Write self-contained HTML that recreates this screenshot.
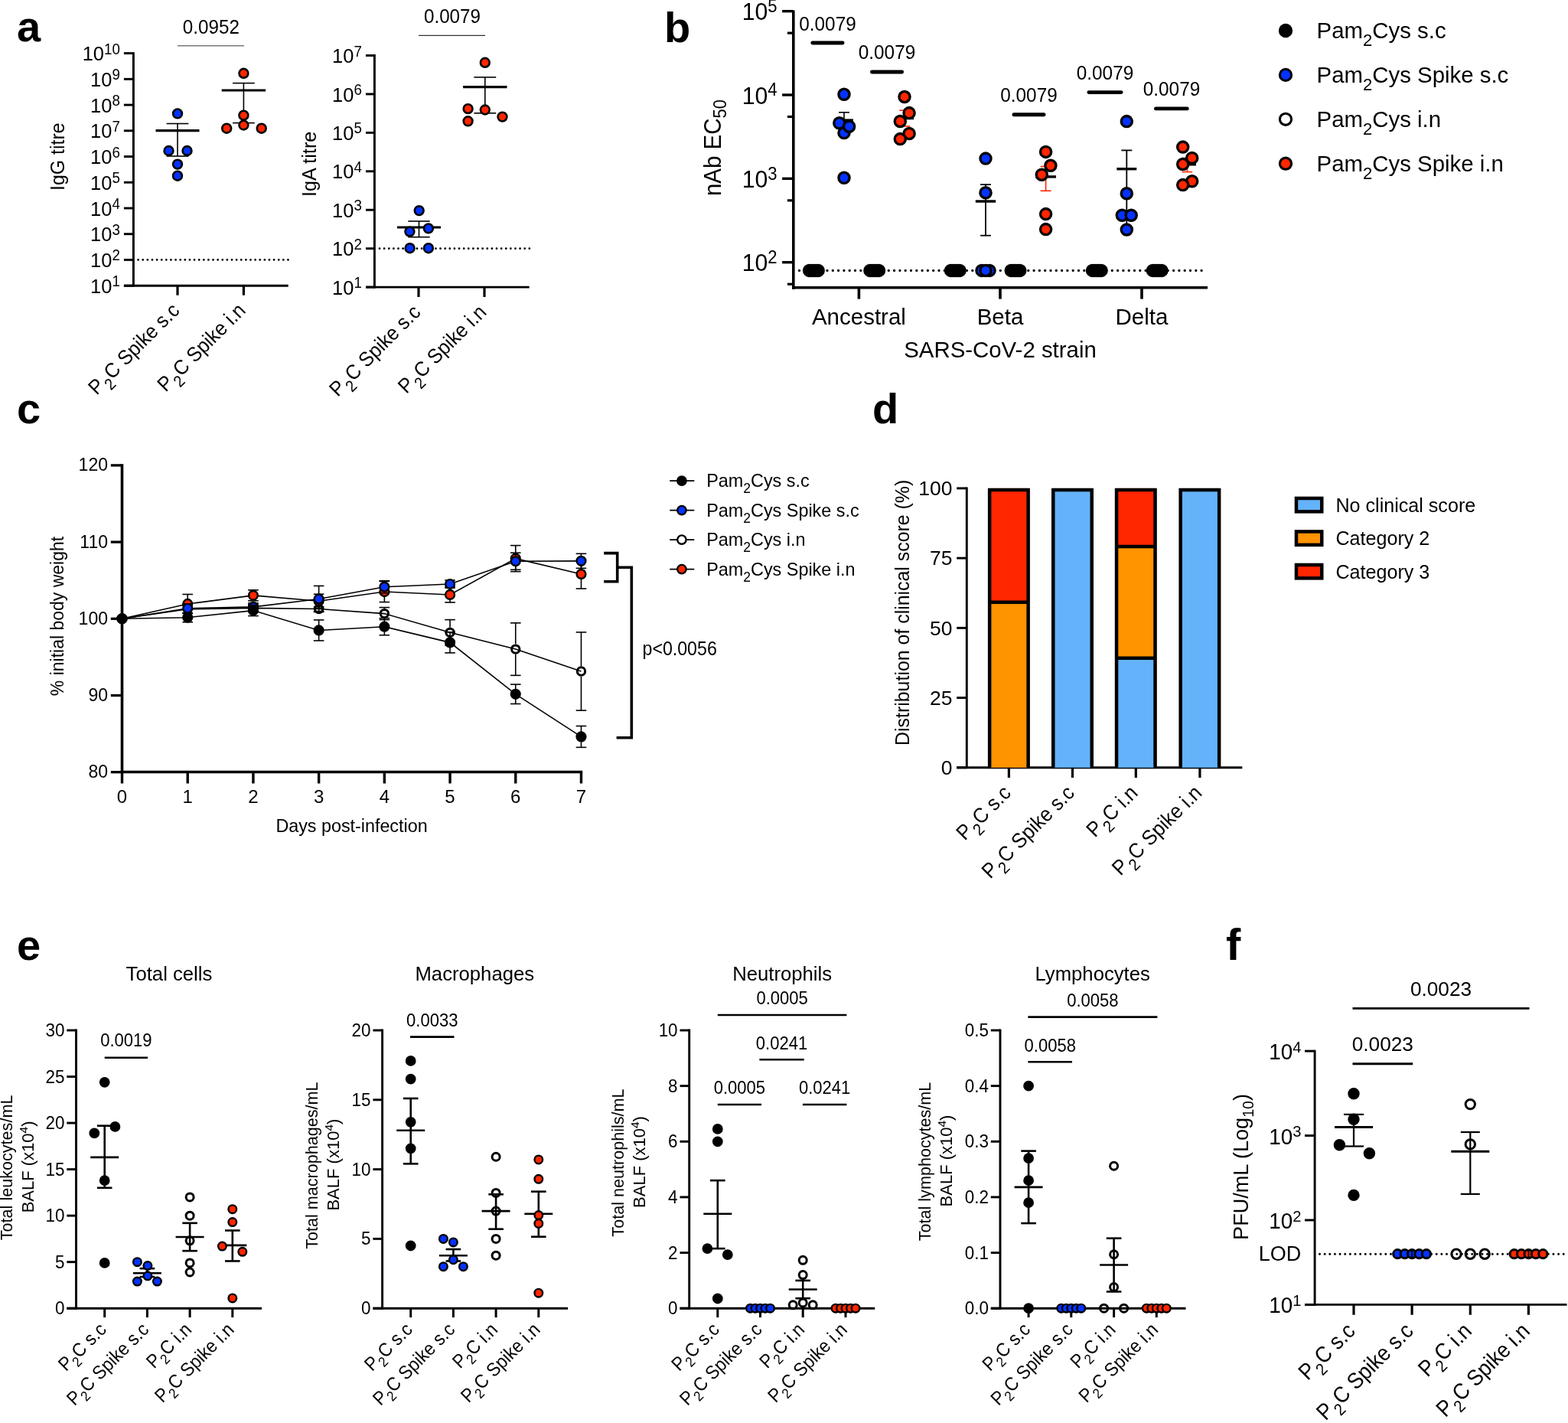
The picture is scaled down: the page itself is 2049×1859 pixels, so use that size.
<!DOCTYPE html>
<html><head><meta charset="utf-8"><title>Figure</title>
<style>html,body{margin:0;padding:0;background:#fff;overflow:hidden;}svg{display:block;}</style>
</head><body>
<svg width="2049" height="1859" viewBox="0 0 2049 1859" font-family='"Liberation Sans", Arial, Helvetica, sans-serif'>
<text x="22" y="54" font-size="56" font-weight="bold">a</text>
<line x1="174.4" y1="68.2" x2="174.4" y2="374.6" stroke="#000" stroke-width="2.9" stroke-linecap="butt"/>
<line x1="161.9" y1="373.2" x2="376.7" y2="373.2" stroke="#000" stroke-width="2.9" stroke-linecap="butt"/>
<line x1="161.9" y1="373.2" x2="174.4" y2="373.2" stroke="#000" stroke-width="2.9" stroke-linecap="butt"/>
<text transform="translate(156.8 382.8) scale(0.960 1.000)" font-size="26.5" text-anchor="end">10<tspan font-size="19.5" dy="-8.6">1</tspan></text>
<line x1="161.9" y1="339.47" x2="174.4" y2="339.47" stroke="#000" stroke-width="2.9" stroke-linecap="butt"/>
<text transform="translate(156.8 349.07) scale(0.960 1.000)" font-size="26.5" text-anchor="end">10<tspan font-size="19.5" dy="-8.6">2</tspan></text>
<line x1="161.9" y1="305.73" x2="174.4" y2="305.73" stroke="#000" stroke-width="2.9" stroke-linecap="butt"/>
<text transform="translate(156.8 315.33) scale(0.960 1.000)" font-size="26.5" text-anchor="end">10<tspan font-size="19.5" dy="-8.6">3</tspan></text>
<line x1="161.9" y1="272" x2="174.4" y2="272" stroke="#000" stroke-width="2.9" stroke-linecap="butt"/>
<text transform="translate(156.8 281.6) scale(0.960 1.000)" font-size="26.5" text-anchor="end">10<tspan font-size="19.5" dy="-8.6">4</tspan></text>
<line x1="161.9" y1="238.27" x2="174.4" y2="238.27" stroke="#000" stroke-width="2.9" stroke-linecap="butt"/>
<text transform="translate(156.8 247.87) scale(0.960 1.000)" font-size="26.5" text-anchor="end">10<tspan font-size="19.5" dy="-8.6">5</tspan></text>
<line x1="161.9" y1="204.53" x2="174.4" y2="204.53" stroke="#000" stroke-width="2.9" stroke-linecap="butt"/>
<text transform="translate(156.8 214.13) scale(0.960 1.000)" font-size="26.5" text-anchor="end">10<tspan font-size="19.5" dy="-8.6">6</tspan></text>
<line x1="161.9" y1="170.8" x2="174.4" y2="170.8" stroke="#000" stroke-width="2.9" stroke-linecap="butt"/>
<text transform="translate(156.8 180.4) scale(0.960 1.000)" font-size="26.5" text-anchor="end">10<tspan font-size="19.5" dy="-8.6">7</tspan></text>
<line x1="161.9" y1="137.07" x2="174.4" y2="137.07" stroke="#000" stroke-width="2.9" stroke-linecap="butt"/>
<text transform="translate(156.8 146.67) scale(0.960 1.000)" font-size="26.5" text-anchor="end">10<tspan font-size="19.5" dy="-8.6">8</tspan></text>
<line x1="161.9" y1="103.33" x2="174.4" y2="103.33" stroke="#000" stroke-width="2.9" stroke-linecap="butt"/>
<text transform="translate(156.8 112.93) scale(0.960 1.000)" font-size="26.5" text-anchor="end">10<tspan font-size="19.5" dy="-8.6">9</tspan></text>
<line x1="161.9" y1="69.6" x2="174.4" y2="69.6" stroke="#000" stroke-width="2.9" stroke-linecap="butt"/>
<text transform="translate(156.8 79.2) scale(0.960 1.000)" font-size="26.5" text-anchor="end">10<tspan font-size="19.5" dy="-8.6">10</tspan></text>
<line x1="232" y1="373.2" x2="232" y2="385.7" stroke="#000" stroke-width="3.2" stroke-linecap="butt"/>
<line x1="318.4" y1="373.2" x2="318.4" y2="385.7" stroke="#000" stroke-width="3.2" stroke-linecap="butt"/>
<line x1="180.6" y1="339.47" x2="378" y2="339.47" stroke="#000" stroke-width="2.8" stroke-linecap="round" stroke-dasharray="0 6.12"/>
<line x1="232" y1="59.7" x2="319" y2="59.7" stroke="#7a7a7a" stroke-width="1.5" stroke-linecap="butt"/>
<text transform="translate(275.8 44) scale(0.970 1.000)" font-size="25" text-anchor="middle">0.0952</text>
<text x="84" y="204.7" font-size="24.9" text-anchor="middle" transform="rotate(-90 84 204.7)">IgG titre</text>
<line x1="232" y1="161.5" x2="232" y2="204" stroke="#000" stroke-width="1.6" stroke-linecap="butt"/>
<line x1="217.6" y1="161.5" x2="246.4" y2="161.5" stroke="#000" stroke-width="1.6" stroke-linecap="butt"/>
<line x1="217.6" y1="204" x2="246.4" y2="204" stroke="#000" stroke-width="1.6" stroke-linecap="butt"/>
<line x1="203.5" y1="170.6" x2="260.5" y2="170.6" stroke="#000" stroke-width="3.2" stroke-linecap="butt"/>
<circle cx="232" cy="148.4" r="5.9" fill="#0433FF" stroke="#000" stroke-width="2.6"/>
<circle cx="220.5" cy="197" r="5.9" fill="#0433FF" stroke="#000" stroke-width="2.6"/>
<circle cx="244.5" cy="197" r="5.9" fill="#0433FF" stroke="#000" stroke-width="2.6"/>
<circle cx="232" cy="214.6" r="5.9" fill="#0433FF" stroke="#000" stroke-width="2.6"/>
<circle cx="232" cy="229.7" r="5.9" fill="#0433FF" stroke="#000" stroke-width="2.6"/>
<line x1="318.4" y1="108.6" x2="318.4" y2="160.6" stroke="#000" stroke-width="1.6" stroke-linecap="butt"/>
<line x1="304" y1="108.6" x2="332.8" y2="108.6" stroke="#000" stroke-width="1.6" stroke-linecap="butt"/>
<line x1="304" y1="160.6" x2="332.8" y2="160.6" stroke="#000" stroke-width="1.6" stroke-linecap="butt"/>
<line x1="289.7" y1="118" x2="347.1" y2="118" stroke="#000" stroke-width="3.2" stroke-linecap="butt"/>
<circle cx="318.4" cy="95.8" r="5.9" fill="#FF2600" stroke="#000" stroke-width="2.6"/>
<circle cx="318.4" cy="150.7" r="5.9" fill="#FF2600" stroke="#000" stroke-width="2.6"/>
<circle cx="318.4" cy="163.5" r="5.9" fill="#FF2600" stroke="#000" stroke-width="2.6"/>
<circle cx="296.2" cy="167.7" r="5.9" fill="#FF2600" stroke="#000" stroke-width="2.6"/>
<circle cx="341.7" cy="167.7" r="5.9" fill="#FF2600" stroke="#000" stroke-width="2.6"/>
<text transform="translate(236 407.1) rotate(-45) scale(0.935 1.000)" font-size="26.8" text-anchor="end">P<tspan font-size="21.2" dy="9" dx="1">2</tspan><tspan dy="-9">C Spike s.c</tspan></text>
<text transform="translate(322.4 407.1) rotate(-45) scale(0.935 1.000)" font-size="26.8" text-anchor="end">P<tspan font-size="21.2" dy="9" dx="1">2</tspan><tspan dy="-9">C Spike i.n</tspan></text>
<line x1="489.4" y1="71.1" x2="489.4" y2="376.5" stroke="#000" stroke-width="2.9" stroke-linecap="butt"/>
<line x1="478" y1="375.1" x2="691.7" y2="375.1" stroke="#000" stroke-width="2.9" stroke-linecap="butt"/>
<line x1="478" y1="375.1" x2="489.4" y2="375.1" stroke="#000" stroke-width="2.9" stroke-linecap="butt"/>
<text transform="translate(472.8 384.7) scale(0.960 1.000)" font-size="26.5" text-anchor="end">10<tspan font-size="19.5" dy="-8.6">1</tspan></text>
<line x1="478" y1="324.67" x2="489.4" y2="324.67" stroke="#000" stroke-width="2.9" stroke-linecap="butt"/>
<text transform="translate(472.8 334.27) scale(0.960 1.000)" font-size="26.5" text-anchor="end">10<tspan font-size="19.5" dy="-8.6">2</tspan></text>
<line x1="478" y1="274.23" x2="489.4" y2="274.23" stroke="#000" stroke-width="2.9" stroke-linecap="butt"/>
<text transform="translate(472.8 283.83) scale(0.960 1.000)" font-size="26.5" text-anchor="end">10<tspan font-size="19.5" dy="-8.6">3</tspan></text>
<line x1="478" y1="223.8" x2="489.4" y2="223.8" stroke="#000" stroke-width="2.9" stroke-linecap="butt"/>
<text transform="translate(472.8 233.4) scale(0.960 1.000)" font-size="26.5" text-anchor="end">10<tspan font-size="19.5" dy="-8.6">4</tspan></text>
<line x1="478" y1="173.37" x2="489.4" y2="173.37" stroke="#000" stroke-width="2.9" stroke-linecap="butt"/>
<text transform="translate(472.8 182.97) scale(0.960 1.000)" font-size="26.5" text-anchor="end">10<tspan font-size="19.5" dy="-8.6">5</tspan></text>
<line x1="478" y1="122.93" x2="489.4" y2="122.93" stroke="#000" stroke-width="2.9" stroke-linecap="butt"/>
<text transform="translate(472.8 132.53) scale(0.960 1.000)" font-size="26.5" text-anchor="end">10<tspan font-size="19.5" dy="-8.6">6</tspan></text>
<line x1="478" y1="72.5" x2="489.4" y2="72.5" stroke="#000" stroke-width="2.9" stroke-linecap="butt"/>
<text transform="translate(472.8 82.1) scale(0.960 1.000)" font-size="26.5" text-anchor="end">10<tspan font-size="19.5" dy="-8.6">7</tspan></text>
<line x1="547" y1="375.1" x2="547" y2="388" stroke="#000" stroke-width="3.2" stroke-linecap="butt"/>
<line x1="633" y1="375.1" x2="633" y2="388" stroke="#000" stroke-width="3.2" stroke-linecap="butt"/>
<line x1="496" y1="324.67" x2="692" y2="324.67" stroke="#000" stroke-width="2.8" stroke-linecap="round" stroke-dasharray="0 6.12"/>
<line x1="547" y1="46.4" x2="634" y2="46.4" stroke="#303030" stroke-width="1.2" stroke-linecap="butt"/>
<text transform="translate(591 30) scale(0.970 1.000)" font-size="25" text-anchor="middle">0.0079</text>
<text x="413" y="214.4" font-size="25.2" text-anchor="middle" transform="rotate(-90 413 214.4)">IgA titre</text>
<line x1="547.5" y1="289" x2="547.5" y2="309.7" stroke="#000" stroke-width="1.6" stroke-linecap="butt"/>
<line x1="533.3" y1="289" x2="561.7" y2="289" stroke="#000" stroke-width="1.6" stroke-linecap="butt"/>
<line x1="533.3" y1="309.7" x2="561.7" y2="309.7" stroke="#000" stroke-width="1.6" stroke-linecap="butt"/>
<line x1="519" y1="297" x2="576" y2="297" stroke="#000" stroke-width="3.2" stroke-linecap="butt"/>
<circle cx="547.7" cy="275.1" r="5.9" fill="#0433FF" stroke="#000" stroke-width="2.6"/>
<circle cx="559.9" cy="298.4" r="5.9" fill="#0433FF" stroke="#000" stroke-width="2.6"/>
<circle cx="535.4" cy="302.6" r="5.9" fill="#0433FF" stroke="#000" stroke-width="2.6"/>
<circle cx="535.6" cy="324.2" r="5.9" fill="#0433FF" stroke="#000" stroke-width="2.6"/>
<circle cx="559.9" cy="324.2" r="5.9" fill="#0433FF" stroke="#000" stroke-width="2.6"/>
<line x1="633.8" y1="100.9" x2="633.8" y2="147.8" stroke="#000" stroke-width="1.6" stroke-linecap="butt"/>
<line x1="619.4" y1="100.9" x2="648.2" y2="100.9" stroke="#000" stroke-width="1.6" stroke-linecap="butt"/>
<line x1="619.4" y1="147.8" x2="648.2" y2="147.8" stroke="#000" stroke-width="1.6" stroke-linecap="butt"/>
<line x1="605.1" y1="113.7" x2="662.5" y2="113.7" stroke="#000" stroke-width="3.2" stroke-linecap="butt"/>
<circle cx="633.8" cy="81.8" r="5.9" fill="#FF2600" stroke="#000" stroke-width="2.6"/>
<circle cx="611.6" cy="142.1" r="5.9" fill="#FF2600" stroke="#000" stroke-width="2.6"/>
<circle cx="633.8" cy="143.5" r="5.9" fill="#FF2600" stroke="#000" stroke-width="2.6"/>
<circle cx="656.5" cy="152.6" r="5.9" fill="#FF2600" stroke="#000" stroke-width="2.6"/>
<circle cx="611.6" cy="158.3" r="5.9" fill="#FF2600" stroke="#000" stroke-width="2.6"/>
<text transform="translate(551 409.4) rotate(-45) scale(0.935 1.000)" font-size="26.8" text-anchor="end">P<tspan font-size="21.2" dy="9" dx="1">2</tspan><tspan dy="-9">C Spike s.c</tspan></text>
<text transform="translate(637 409.4) rotate(-45) scale(0.935 1.000)" font-size="26.8" text-anchor="end">P<tspan font-size="21.2" dy="9" dx="1">2</tspan><tspan dy="-9">C Spike i.n</tspan></text>
<text x="868" y="55" font-size="56" font-weight="bold">b</text>
<line x1="1036.8" y1="13.4" x2="1036.8" y2="377.7" stroke="#000" stroke-width="3.6" stroke-linecap="butt"/>
<line x1="1035" y1="375.8" x2="1578" y2="375.8" stroke="#000" stroke-width="3.6" stroke-linecap="butt"/>
<line x1="1022.1" y1="342.7" x2="1036.8" y2="342.7" stroke="#000" stroke-width="3.4" stroke-linecap="butt"/>
<text transform="translate(1015.6 354.3) scale(0.960 1.000)" font-size="31.5" text-anchor="end">10<tspan font-size="23" dy="-10.4">2</tspan></text>
<line x1="1028.9" y1="371.2" x2="1036.8" y2="371.2" stroke="#000" stroke-width="3.2" stroke-linecap="butt"/>
<line x1="1022.1" y1="233.35" x2="1036.8" y2="233.35" stroke="#000" stroke-width="3.4" stroke-linecap="butt"/>
<text transform="translate(1015.6 244.95) scale(0.960 1.000)" font-size="31.5" text-anchor="end">10<tspan font-size="23" dy="-10.4">3</tspan></text>
<line x1="1028.9" y1="261.85" x2="1036.8" y2="261.85" stroke="#000" stroke-width="3.2" stroke-linecap="butt"/>
<line x1="1022.1" y1="124" x2="1036.8" y2="124" stroke="#000" stroke-width="3.4" stroke-linecap="butt"/>
<text transform="translate(1015.6 135.6) scale(0.960 1.000)" font-size="31.5" text-anchor="end">10<tspan font-size="23" dy="-10.4">4</tspan></text>
<line x1="1028.9" y1="152.5" x2="1036.8" y2="152.5" stroke="#000" stroke-width="3.2" stroke-linecap="butt"/>
<line x1="1022.1" y1="14.65" x2="1036.8" y2="14.65" stroke="#000" stroke-width="3.4" stroke-linecap="butt"/>
<text transform="translate(1015.6 26.25) scale(0.960 1.000)" font-size="31.5" text-anchor="end">10<tspan font-size="23" dy="-10.4">5</tspan></text>
<line x1="1028.9" y1="43.15" x2="1036.8" y2="43.15" stroke="#000" stroke-width="3.2" stroke-linecap="butt"/>
<line x1="1122.4" y1="375.8" x2="1122.4" y2="390.6" stroke="#000" stroke-width="3.6" stroke-linecap="butt"/>
<line x1="1307" y1="375.8" x2="1307" y2="390.6" stroke="#000" stroke-width="3.6" stroke-linecap="butt"/>
<line x1="1492" y1="375.8" x2="1492" y2="390.6" stroke="#000" stroke-width="3.6" stroke-linecap="butt"/>
<line x1="1044.5" y1="353.4" x2="1576" y2="353.4" stroke="#000" stroke-width="3.3" stroke-linecap="round" stroke-dasharray="0 7.3"/>
<text x="1122.4" y="424.3" font-size="29.5" text-anchor="middle">Ancestral</text>
<text x="1307" y="424.3" font-size="29.5" text-anchor="middle">Beta</text>
<text x="1492" y="424.3" font-size="29.5" text-anchor="middle">Delta</text>
<text x="1307" y="467.3" font-size="29.4" text-anchor="middle">SARS-CoV-2 strain</text>
<text transform="translate(941.6 193) rotate(-90) scale(1.000 1.050)" font-size="29.5" text-anchor="middle">nAb EC<tspan font-size="22" dy="7.5">50</tspan></text>
<line x1="1061.8" y1="56" x2="1101.1" y2="56" stroke="#000" stroke-width="4.9" stroke-linecap="round"/>
<text transform="translate(1081.5 39.7) scale(0.955 1.000)" font-size="25.5" text-anchor="middle">0.0079</text>
<line x1="1139.4" y1="94" x2="1178.6" y2="94" stroke="#000" stroke-width="4.9" stroke-linecap="round"/>
<text transform="translate(1159 77.4) scale(0.955 1.000)" font-size="25.5" text-anchor="middle">0.0079</text>
<line x1="1324.9" y1="149.8" x2="1364.1" y2="149.8" stroke="#000" stroke-width="4.9" stroke-linecap="round"/>
<text transform="translate(1344.5 133.2) scale(0.955 1.000)" font-size="25.5" text-anchor="middle">0.0079</text>
<line x1="1422.9" y1="120.6" x2="1465.1" y2="120.6" stroke="#000" stroke-width="4.9" stroke-linecap="round"/>
<text transform="translate(1444 104) scale(0.955 1.000)" font-size="25.5" text-anchor="middle">0.0079</text>
<line x1="1510.4" y1="141.9" x2="1551.3" y2="141.9" stroke="#000" stroke-width="4.9" stroke-linecap="round"/>
<text transform="translate(1531 125.2) scale(0.955 1.000)" font-size="25.5" text-anchor="middle">0.0079</text>
<circle cx="1057.65" cy="353.4" r="7.1" fill="#000" stroke="#000" stroke-width="3.3"/>
<circle cx="1060.53" cy="353.4" r="7.1" fill="#000" stroke="#000" stroke-width="3.3"/>
<circle cx="1063.4" cy="353.4" r="7.1" fill="#000" stroke="#000" stroke-width="3.3"/>
<circle cx="1066.28" cy="353.4" r="7.1" fill="#000" stroke="#000" stroke-width="3.3"/>
<circle cx="1069.15" cy="353.4" r="7.1" fill="#000" stroke="#000" stroke-width="3.3"/>
<circle cx="1136.95" cy="353.4" r="7.1" fill="#000" stroke="#000" stroke-width="3.3"/>
<circle cx="1139.83" cy="353.4" r="7.1" fill="#000" stroke="#000" stroke-width="3.3"/>
<circle cx="1142.7" cy="353.4" r="7.1" fill="#000" stroke="#000" stroke-width="3.3"/>
<circle cx="1145.58" cy="353.4" r="7.1" fill="#000" stroke="#000" stroke-width="3.3"/>
<circle cx="1148.45" cy="353.4" r="7.1" fill="#000" stroke="#000" stroke-width="3.3"/>
<line x1="1103" y1="146.8" x2="1103" y2="168" stroke="#000" stroke-width="1.6" stroke-linecap="butt"/>
<line x1="1096" y1="146.8" x2="1110" y2="146.8" stroke="#000" stroke-width="1.6" stroke-linecap="butt"/>
<line x1="1096" y1="168" x2="1110" y2="168" stroke="#000" stroke-width="1.6" stroke-linecap="butt"/>
<line x1="1091" y1="157" x2="1115" y2="157" stroke="#000" stroke-width="3.2" stroke-linecap="butt"/>
<circle cx="1103" cy="123.3" r="7.1" fill="#0433FF" stroke="#000" stroke-width="3.3"/>
<circle cx="1096.8" cy="160.8" r="7.1" fill="#0433FF" stroke="#000" stroke-width="3.3"/>
<circle cx="1103" cy="173.6" r="7.1" fill="#0433FF" stroke="#000" stroke-width="3.3"/>
<circle cx="1109.6" cy="165.2" r="7.1" fill="#0433FF" stroke="#000" stroke-width="3.3"/>
<circle cx="1103" cy="232.3" r="7.1" fill="#0433FF" stroke="#000" stroke-width="3.3"/>
<line x1="1182.3" y1="144.2" x2="1182.3" y2="164.9" stroke="#FF2600" stroke-width="1.6" stroke-linecap="butt"/>
<line x1="1175.3" y1="144.2" x2="1189.3" y2="144.2" stroke="#FF2600" stroke-width="1.6" stroke-linecap="butt"/>
<line x1="1175.3" y1="164.9" x2="1189.3" y2="164.9" stroke="#FF2600" stroke-width="1.6" stroke-linecap="butt"/>
<line x1="1170" y1="154.5" x2="1194" y2="154.5" stroke="#000" stroke-width="3.4" stroke-linecap="butt"/>
<circle cx="1182" cy="126.5" r="7.1" fill="#FF2600" stroke="#000" stroke-width="3.3"/>
<circle cx="1188.1" cy="147.6" r="7.1" fill="#FF2600" stroke="#000" stroke-width="3.3"/>
<circle cx="1176.3" cy="158.5" r="7.1" fill="#FF2600" stroke="#000" stroke-width="3.3"/>
<circle cx="1188.1" cy="174.5" r="7.1" fill="#FF2600" stroke="#000" stroke-width="3.3"/>
<circle cx="1176.3" cy="181.6" r="7.1" fill="#FF2600" stroke="#000" stroke-width="3.3"/>
<circle cx="1242.55" cy="353.4" r="7.1" fill="#000" stroke="#000" stroke-width="3.3"/>
<circle cx="1245.42" cy="353.4" r="7.1" fill="#000" stroke="#000" stroke-width="3.3"/>
<circle cx="1248.3" cy="353.4" r="7.1" fill="#000" stroke="#000" stroke-width="3.3"/>
<circle cx="1251.17" cy="353.4" r="7.1" fill="#000" stroke="#000" stroke-width="3.3"/>
<circle cx="1254.05" cy="353.4" r="7.1" fill="#000" stroke="#000" stroke-width="3.3"/>
<circle cx="1321.25" cy="353.4" r="7.1" fill="#000" stroke="#000" stroke-width="3.3"/>
<circle cx="1324.12" cy="353.4" r="7.1" fill="#000" stroke="#000" stroke-width="3.3"/>
<circle cx="1327" cy="353.4" r="7.1" fill="#000" stroke="#000" stroke-width="3.3"/>
<circle cx="1329.88" cy="353.4" r="7.1" fill="#000" stroke="#000" stroke-width="3.3"/>
<circle cx="1332.75" cy="353.4" r="7.1" fill="#000" stroke="#000" stroke-width="3.3"/>
<line x1="1288" y1="241.1" x2="1288" y2="307.7" stroke="#000" stroke-width="1.8" stroke-linecap="butt"/>
<line x1="1281.1" y1="241.1" x2="1294.9" y2="241.1" stroke="#000" stroke-width="1.8" stroke-linecap="butt"/>
<line x1="1281.1" y1="307.7" x2="1294.9" y2="307.7" stroke="#000" stroke-width="1.8" stroke-linecap="butt"/>
<line x1="1274.8" y1="263" x2="1301.2" y2="263" stroke="#000" stroke-width="3.4" stroke-linecap="butt"/>
<circle cx="1288" cy="207.1" r="7.1" fill="#0433FF" stroke="#000" stroke-width="3.3"/>
<circle cx="1288" cy="251.8" r="7.1" fill="#0433FF" stroke="#000" stroke-width="3.3"/>
<circle cx="1283" cy="353.4" r="7.1" fill="#0433FF" stroke="#000" stroke-width="3.3"/>
<circle cx="1293" cy="353.4" r="7.1" fill="#0433FF" stroke="#000" stroke-width="3.3"/>
<circle cx="1288" cy="353.4" r="7.1" fill="#0433FF" stroke="#000" stroke-width="3.3"/>
<line x1="1366.6" y1="217.5" x2="1366.6" y2="249.3" stroke="#FF2600" stroke-width="1.6" stroke-linecap="butt"/>
<line x1="1359.6" y1="217.5" x2="1373.6" y2="217.5" stroke="#FF2600" stroke-width="1.6" stroke-linecap="butt"/>
<line x1="1359.6" y1="249.3" x2="1373.6" y2="249.3" stroke="#FF2600" stroke-width="1.6" stroke-linecap="butt"/>
<line x1="1353" y1="230.9" x2="1380" y2="230.9" stroke="#000" stroke-width="3.4" stroke-linecap="butt"/>
<circle cx="1366.6" cy="198.4" r="7.1" fill="#FF2600" stroke="#000" stroke-width="3.3"/>
<circle cx="1372.9" cy="216.3" r="7.1" fill="#FF2600" stroke="#000" stroke-width="3.3"/>
<circle cx="1361.3" cy="228.2" r="7.1" fill="#FF2600" stroke="#000" stroke-width="3.3"/>
<circle cx="1366.6" cy="279.6" r="7.1" fill="#FF2600" stroke="#000" stroke-width="3.3"/>
<circle cx="1366.6" cy="299.6" r="7.1" fill="#FF2600" stroke="#000" stroke-width="3.3"/>
<circle cx="1427.55" cy="353.4" r="7.1" fill="#000" stroke="#000" stroke-width="3.3"/>
<circle cx="1430.42" cy="353.4" r="7.1" fill="#000" stroke="#000" stroke-width="3.3"/>
<circle cx="1433.3" cy="353.4" r="7.1" fill="#000" stroke="#000" stroke-width="3.3"/>
<circle cx="1436.17" cy="353.4" r="7.1" fill="#000" stroke="#000" stroke-width="3.3"/>
<circle cx="1439.05" cy="353.4" r="7.1" fill="#000" stroke="#000" stroke-width="3.3"/>
<circle cx="1506.45" cy="353.4" r="7.1" fill="#000" stroke="#000" stroke-width="3.3"/>
<circle cx="1509.33" cy="353.4" r="7.1" fill="#000" stroke="#000" stroke-width="3.3"/>
<circle cx="1512.2" cy="353.4" r="7.1" fill="#000" stroke="#000" stroke-width="3.3"/>
<circle cx="1515.08" cy="353.4" r="7.1" fill="#000" stroke="#000" stroke-width="3.3"/>
<circle cx="1517.95" cy="353.4" r="7.1" fill="#000" stroke="#000" stroke-width="3.3"/>
<line x1="1472.3" y1="196.4" x2="1472.3" y2="300" stroke="#000" stroke-width="1.8" stroke-linecap="butt"/>
<line x1="1465.3" y1="196.4" x2="1479.3" y2="196.4" stroke="#000" stroke-width="1.8" stroke-linecap="butt"/>
<line x1="1465.3" y1="300" x2="1479.3" y2="300" stroke="#000" stroke-width="1.8" stroke-linecap="butt"/>
<line x1="1459.3" y1="220.7" x2="1485.3" y2="220.7" stroke="#000" stroke-width="3.4" stroke-linecap="butt"/>
<circle cx="1472.3" cy="158.6" r="7.1" fill="#0433FF" stroke="#000" stroke-width="3.3"/>
<circle cx="1472.3" cy="252.7" r="7.1" fill="#0433FF" stroke="#000" stroke-width="3.3"/>
<circle cx="1466.3" cy="281.3" r="7.1" fill="#0433FF" stroke="#000" stroke-width="3.3"/>
<circle cx="1478.2" cy="281.3" r="7.1" fill="#0433FF" stroke="#000" stroke-width="3.3"/>
<circle cx="1472.3" cy="300" r="7.1" fill="#0433FF" stroke="#000" stroke-width="3.3"/>
<line x1="1551.4" y1="206.5" x2="1551.4" y2="224.6" stroke="#FF2600" stroke-width="1.6" stroke-linecap="butt"/>
<line x1="1544.6" y1="206.5" x2="1558.2" y2="206.5" stroke="#FF2600" stroke-width="1.6" stroke-linecap="butt"/>
<line x1="1544.6" y1="224.6" x2="1558.2" y2="224.6" stroke="#FF2600" stroke-width="1.6" stroke-linecap="butt"/>
<line x1="1540" y1="214.8" x2="1563" y2="214.8" stroke="#000" stroke-width="3.4" stroke-linecap="butt"/>
<circle cx="1545.7" cy="192.1" r="7.1" fill="#FF2600" stroke="#000" stroke-width="3.3"/>
<circle cx="1557.7" cy="206.4" r="7.1" fill="#FF2600" stroke="#000" stroke-width="3.3"/>
<circle cx="1545.7" cy="214.5" r="7.1" fill="#FF2600" stroke="#000" stroke-width="3.3"/>
<circle cx="1557.7" cy="236.8" r="7.1" fill="#FF2600" stroke="#000" stroke-width="3.3"/>
<circle cx="1545.7" cy="241.6" r="7.1" fill="#FF2600" stroke="#000" stroke-width="3.3"/>
<circle cx="1680" cy="40" r="7.6" fill="#000" stroke="#000" stroke-width="3.1"/>
<text x="1720.6" y="49.8" font-size="29.4">Pam<tspan font-size="22" dy="10.5">2</tspan><tspan dy="-10.5">Cys s.c</tspan></text>
<circle cx="1680" cy="97.9" r="7.6" fill="#0433FF" stroke="#000" stroke-width="3.1"/>
<text x="1720.6" y="107.7" font-size="29.4">Pam<tspan font-size="22" dy="10.5">2</tspan><tspan dy="-10.5">Cys Spike s.c</tspan></text>
<circle cx="1680" cy="155.8" r="7.6" fill="#fff" stroke="#000" stroke-width="3.1"/>
<text x="1720.6" y="165.6" font-size="29.4">Pam<tspan font-size="22" dy="10.5">2</tspan><tspan dy="-10.5">Cys i.n</tspan></text>
<circle cx="1680" cy="213.7" r="7.6" fill="#FF2600" stroke="#000" stroke-width="3.1"/>
<text x="1720.6" y="223.5" font-size="29.4">Pam<tspan font-size="22" dy="10.5">2</tspan><tspan dy="-10.5">Cys Spike i.n</tspan></text>
<text x="22" y="553" font-size="56" font-weight="bold">c</text>
<line x1="159.5" y1="606.3" x2="159.5" y2="1010.2" stroke="#000" stroke-width="3.6" stroke-linecap="butt"/>
<line x1="159.5" y1="1008.6" x2="761.2" y2="1008.6" stroke="#000" stroke-width="3.5" stroke-linecap="butt"/>
<line x1="144.8" y1="1008.7" x2="159.5" y2="1008.7" stroke="#000" stroke-width="3.3" stroke-linecap="butt"/>
<text transform="translate(141 1016.1) scale(0.940 1.000)" font-size="24.5" text-anchor="end">80</text>
<line x1="144.8" y1="908.5" x2="159.5" y2="908.5" stroke="#000" stroke-width="3.3" stroke-linecap="butt"/>
<text transform="translate(141 915.9) scale(0.940 1.000)" font-size="24.5" text-anchor="end">90</text>
<line x1="144.8" y1="808.3" x2="159.5" y2="808.3" stroke="#000" stroke-width="3.3" stroke-linecap="butt"/>
<text transform="translate(141 815.7) scale(0.940 1.000)" font-size="24.5" text-anchor="end">100</text>
<line x1="144.8" y1="708.1" x2="159.5" y2="708.1" stroke="#000" stroke-width="3.3" stroke-linecap="butt"/>
<text transform="translate(141 715.5) scale(0.940 1.000)" font-size="24.5" text-anchor="end">110</text>
<line x1="144.8" y1="607.9" x2="159.5" y2="607.9" stroke="#000" stroke-width="3.3" stroke-linecap="butt"/>
<text transform="translate(141 615.3) scale(0.940 1.000)" font-size="24.5" text-anchor="end">120</text>
<line x1="159.5" y1="1008.6" x2="159.5" y2="1023.5" stroke="#000" stroke-width="3.4" stroke-linecap="butt"/>
<text x="159.5" y="1048.8" font-size="24" text-anchor="middle">0</text>
<line x1="245.21" y1="1008.6" x2="245.21" y2="1023.5" stroke="#000" stroke-width="3.4" stroke-linecap="butt"/>
<text x="245.21" y="1048.8" font-size="24" text-anchor="middle">1</text>
<line x1="330.92" y1="1008.6" x2="330.92" y2="1023.5" stroke="#000" stroke-width="3.4" stroke-linecap="butt"/>
<text x="330.92" y="1048.8" font-size="24" text-anchor="middle">2</text>
<line x1="416.63" y1="1008.6" x2="416.63" y2="1023.5" stroke="#000" stroke-width="3.4" stroke-linecap="butt"/>
<text x="416.63" y="1048.8" font-size="24" text-anchor="middle">3</text>
<line x1="502.34" y1="1008.6" x2="502.34" y2="1023.5" stroke="#000" stroke-width="3.4" stroke-linecap="butt"/>
<text x="502.34" y="1048.8" font-size="24" text-anchor="middle">4</text>
<line x1="588.05" y1="1008.6" x2="588.05" y2="1023.5" stroke="#000" stroke-width="3.4" stroke-linecap="butt"/>
<text x="588.05" y="1048.8" font-size="24" text-anchor="middle">5</text>
<line x1="673.76" y1="1008.6" x2="673.76" y2="1023.5" stroke="#000" stroke-width="3.4" stroke-linecap="butt"/>
<text x="673.76" y="1048.8" font-size="24" text-anchor="middle">6</text>
<line x1="759.47" y1="1008.6" x2="759.47" y2="1023.5" stroke="#000" stroke-width="3.4" stroke-linecap="butt"/>
<text x="759.47" y="1048.8" font-size="24" text-anchor="middle">7</text>
<text transform="translate(459.5 1086.5) scale(0.980 1.000)" font-size="23.8" text-anchor="middle">Days post-infection</text>
<text x="83" y="805" font-size="23" text-anchor="middle" transform="rotate(-90 83 805)">% initial body weight</text>
<polyline points="159.5,808.3 245.21,795.77 330.92,794.37 416.63,795.57 502.34,801.59 588.05,826.34 673.76,848.08 759.47,877.04" fill="none" stroke="#000" stroke-width="1.6"/>
<polyline points="159.5,808.3 245.21,788.96 330.92,777.84 416.63,785.25 502.34,773.03 588.05,776.94 673.76,729.64 759.47,749.98" fill="none" stroke="#000" stroke-width="1.6"/>
<polyline points="159.5,808.3 245.21,794.77 330.92,792.87 416.63,782.45 502.34,766.72 588.05,763.01 673.76,733.25 759.47,732.85" fill="none" stroke="#000" stroke-width="1.6"/>
<polyline points="159.5,808.3 245.21,806.7 330.92,797.58 416.63,823.43 502.34,818.72 588.05,839.36 673.76,906.8 759.47,962.41" fill="none" stroke="#000" stroke-width="1.6"/>
<line x1="238.41" y1="790.76" x2="252.01" y2="790.76" stroke="#000" stroke-width="1.6" stroke-linecap="butt"/>
<line x1="238.41" y1="800.78" x2="252.01" y2="800.78" stroke="#000" stroke-width="1.6" stroke-linecap="butt"/>
<line x1="324.12" y1="789.36" x2="337.72" y2="789.36" stroke="#000" stroke-width="1.6" stroke-linecap="butt"/>
<line x1="324.12" y1="799.38" x2="337.72" y2="799.38" stroke="#000" stroke-width="1.6" stroke-linecap="butt"/>
<line x1="409.83" y1="792.57" x2="423.43" y2="792.57" stroke="#000" stroke-width="1.6" stroke-linecap="butt"/>
<line x1="409.83" y1="798.58" x2="423.43" y2="798.58" stroke="#000" stroke-width="1.6" stroke-linecap="butt"/>
<line x1="502.34" y1="793.57" x2="502.34" y2="794.89" stroke="#000" stroke-width="1.6" stroke-linecap="butt"/>
<line x1="502.34" y1="808.29" x2="502.34" y2="809.6" stroke="#000" stroke-width="1.6" stroke-linecap="butt"/>
<line x1="495.54" y1="793.57" x2="509.14" y2="793.57" stroke="#000" stroke-width="1.6" stroke-linecap="butt"/>
<line x1="495.54" y1="809.6" x2="509.14" y2="809.6" stroke="#000" stroke-width="1.6" stroke-linecap="butt"/>
<line x1="588.05" y1="809.6" x2="588.05" y2="819.64" stroke="#000" stroke-width="1.6" stroke-linecap="butt"/>
<line x1="588.05" y1="833.04" x2="588.05" y2="843.07" stroke="#000" stroke-width="1.6" stroke-linecap="butt"/>
<line x1="581.25" y1="809.6" x2="594.85" y2="809.6" stroke="#000" stroke-width="1.6" stroke-linecap="butt"/>
<line x1="581.25" y1="843.07" x2="594.85" y2="843.07" stroke="#000" stroke-width="1.6" stroke-linecap="butt"/>
<line x1="673.76" y1="813.81" x2="673.76" y2="841.38" stroke="#000" stroke-width="1.6" stroke-linecap="butt"/>
<line x1="673.76" y1="854.78" x2="673.76" y2="882.35" stroke="#000" stroke-width="1.6" stroke-linecap="butt"/>
<line x1="666.96" y1="813.81" x2="680.56" y2="813.81" stroke="#000" stroke-width="1.6" stroke-linecap="butt"/>
<line x1="666.96" y1="882.35" x2="680.56" y2="882.35" stroke="#000" stroke-width="1.6" stroke-linecap="butt"/>
<line x1="759.47" y1="825.94" x2="759.47" y2="870.34" stroke="#000" stroke-width="1.6" stroke-linecap="butt"/>
<line x1="759.47" y1="883.74" x2="759.47" y2="928.14" stroke="#000" stroke-width="1.6" stroke-linecap="butt"/>
<line x1="752.67" y1="825.94" x2="766.27" y2="825.94" stroke="#000" stroke-width="1.6" stroke-linecap="butt"/>
<line x1="752.67" y1="928.14" x2="766.27" y2="928.14" stroke="#000" stroke-width="1.6" stroke-linecap="butt"/>
<circle cx="159.5" cy="808.3" r="5.2" fill="none" stroke="#000" stroke-width="3"/>
<circle cx="245.21" cy="795.77" r="5.2" fill="none" stroke="#000" stroke-width="3"/>
<circle cx="330.92" cy="794.37" r="5.2" fill="none" stroke="#000" stroke-width="3"/>
<circle cx="416.63" cy="795.57" r="5.2" fill="none" stroke="#000" stroke-width="3"/>
<circle cx="502.34" cy="801.59" r="5.2" fill="none" stroke="#000" stroke-width="3"/>
<circle cx="588.05" cy="826.34" r="5.2" fill="none" stroke="#000" stroke-width="3"/>
<circle cx="673.76" cy="848.08" r="5.2" fill="none" stroke="#000" stroke-width="3"/>
<circle cx="759.47" cy="877.04" r="5.2" fill="none" stroke="#000" stroke-width="3"/>
<line x1="245.21" y1="776.44" x2="245.21" y2="801.49" stroke="#000" stroke-width="1.6" stroke-linecap="butt"/>
<line x1="238.41" y1="776.44" x2="252.01" y2="776.44" stroke="#000" stroke-width="1.6" stroke-linecap="butt"/>
<line x1="238.41" y1="801.49" x2="252.01" y2="801.49" stroke="#000" stroke-width="1.6" stroke-linecap="butt"/>
<line x1="330.92" y1="770.83" x2="330.92" y2="784.85" stroke="#000" stroke-width="1.6" stroke-linecap="butt"/>
<line x1="324.12" y1="770.83" x2="337.72" y2="770.83" stroke="#000" stroke-width="1.6" stroke-linecap="butt"/>
<line x1="324.12" y1="784.85" x2="337.72" y2="784.85" stroke="#000" stroke-width="1.6" stroke-linecap="butt"/>
<line x1="416.63" y1="776.24" x2="416.63" y2="794.27" stroke="#000" stroke-width="1.6" stroke-linecap="butt"/>
<line x1="409.83" y1="776.24" x2="423.43" y2="776.24" stroke="#000" stroke-width="1.6" stroke-linecap="butt"/>
<line x1="409.83" y1="794.27" x2="423.43" y2="794.27" stroke="#000" stroke-width="1.6" stroke-linecap="butt"/>
<line x1="502.34" y1="759.5" x2="502.34" y2="786.56" stroke="#000" stroke-width="1.6" stroke-linecap="butt"/>
<line x1="495.54" y1="759.5" x2="509.14" y2="759.5" stroke="#000" stroke-width="1.6" stroke-linecap="butt"/>
<line x1="495.54" y1="786.56" x2="509.14" y2="786.56" stroke="#000" stroke-width="1.6" stroke-linecap="butt"/>
<line x1="588.05" y1="766.92" x2="588.05" y2="786.96" stroke="#000" stroke-width="1.6" stroke-linecap="butt"/>
<line x1="581.25" y1="766.92" x2="594.85" y2="766.92" stroke="#000" stroke-width="1.6" stroke-linecap="butt"/>
<line x1="581.25" y1="786.96" x2="594.85" y2="786.96" stroke="#000" stroke-width="1.6" stroke-linecap="butt"/>
<line x1="673.76" y1="712.61" x2="673.76" y2="746.68" stroke="#000" stroke-width="1.6" stroke-linecap="butt"/>
<line x1="666.96" y1="712.61" x2="680.56" y2="712.61" stroke="#000" stroke-width="1.6" stroke-linecap="butt"/>
<line x1="666.96" y1="746.68" x2="680.56" y2="746.68" stroke="#000" stroke-width="1.6" stroke-linecap="butt"/>
<line x1="759.47" y1="730.95" x2="759.47" y2="769.02" stroke="#000" stroke-width="1.6" stroke-linecap="butt"/>
<line x1="752.67" y1="730.95" x2="766.27" y2="730.95" stroke="#000" stroke-width="1.6" stroke-linecap="butt"/>
<line x1="752.67" y1="769.02" x2="766.27" y2="769.02" stroke="#000" stroke-width="1.6" stroke-linecap="butt"/>
<circle cx="159.5" cy="808.3" r="5.9" fill="#FF2600" stroke="#000" stroke-width="2.4"/>
<circle cx="245.21" cy="788.96" r="5.9" fill="#FF2600" stroke="#000" stroke-width="2.4"/>
<circle cx="330.92" cy="777.84" r="5.9" fill="#FF2600" stroke="#000" stroke-width="2.4"/>
<circle cx="416.63" cy="785.25" r="5.9" fill="#FF2600" stroke="#000" stroke-width="2.4"/>
<circle cx="502.34" cy="773.03" r="5.9" fill="#FF2600" stroke="#000" stroke-width="2.4"/>
<circle cx="588.05" cy="776.94" r="5.9" fill="#FF2600" stroke="#000" stroke-width="2.4"/>
<circle cx="673.76" cy="729.64" r="5.9" fill="#FF2600" stroke="#000" stroke-width="2.4"/>
<circle cx="759.47" cy="749.98" r="5.9" fill="#FF2600" stroke="#000" stroke-width="2.4"/>
<line x1="245.21" y1="788.76" x2="245.21" y2="800.78" stroke="#000" stroke-width="1.6" stroke-linecap="butt"/>
<line x1="238.41" y1="788.76" x2="252.01" y2="788.76" stroke="#000" stroke-width="1.6" stroke-linecap="butt"/>
<line x1="238.41" y1="800.78" x2="252.01" y2="800.78" stroke="#000" stroke-width="1.6" stroke-linecap="butt"/>
<line x1="330.92" y1="787.86" x2="330.92" y2="797.88" stroke="#000" stroke-width="1.6" stroke-linecap="butt"/>
<line x1="324.12" y1="787.86" x2="337.72" y2="787.86" stroke="#000" stroke-width="1.6" stroke-linecap="butt"/>
<line x1="324.12" y1="797.88" x2="337.72" y2="797.88" stroke="#000" stroke-width="1.6" stroke-linecap="butt"/>
<line x1="416.63" y1="765.41" x2="416.63" y2="799.48" stroke="#000" stroke-width="1.6" stroke-linecap="butt"/>
<line x1="409.83" y1="765.41" x2="423.43" y2="765.41" stroke="#000" stroke-width="1.6" stroke-linecap="butt"/>
<line x1="409.83" y1="799.48" x2="423.43" y2="799.48" stroke="#000" stroke-width="1.6" stroke-linecap="butt"/>
<line x1="502.34" y1="758.7" x2="502.34" y2="774.73" stroke="#000" stroke-width="1.6" stroke-linecap="butt"/>
<line x1="495.54" y1="758.7" x2="509.14" y2="758.7" stroke="#000" stroke-width="1.6" stroke-linecap="butt"/>
<line x1="495.54" y1="774.73" x2="509.14" y2="774.73" stroke="#000" stroke-width="1.6" stroke-linecap="butt"/>
<line x1="588.05" y1="758" x2="588.05" y2="768.02" stroke="#000" stroke-width="1.6" stroke-linecap="butt"/>
<line x1="581.25" y1="758" x2="594.85" y2="758" stroke="#000" stroke-width="1.6" stroke-linecap="butt"/>
<line x1="581.25" y1="768.02" x2="594.85" y2="768.02" stroke="#000" stroke-width="1.6" stroke-linecap="butt"/>
<line x1="673.76" y1="722.23" x2="673.76" y2="744.27" stroke="#000" stroke-width="1.6" stroke-linecap="butt"/>
<line x1="666.96" y1="722.23" x2="680.56" y2="722.23" stroke="#000" stroke-width="1.6" stroke-linecap="butt"/>
<line x1="666.96" y1="744.27" x2="680.56" y2="744.27" stroke="#000" stroke-width="1.6" stroke-linecap="butt"/>
<line x1="759.47" y1="723.33" x2="759.47" y2="742.37" stroke="#000" stroke-width="1.6" stroke-linecap="butt"/>
<line x1="752.67" y1="723.33" x2="766.27" y2="723.33" stroke="#000" stroke-width="1.6" stroke-linecap="butt"/>
<line x1="752.67" y1="742.37" x2="766.27" y2="742.37" stroke="#000" stroke-width="1.6" stroke-linecap="butt"/>
<circle cx="159.5" cy="808.3" r="5.9" fill="#0433FF" stroke="#000" stroke-width="2.4"/>
<circle cx="245.21" cy="794.77" r="5.9" fill="#0433FF" stroke="#000" stroke-width="2.4"/>
<circle cx="330.92" cy="792.87" r="5.9" fill="#0433FF" stroke="#000" stroke-width="2.4"/>
<circle cx="416.63" cy="782.45" r="5.9" fill="#0433FF" stroke="#000" stroke-width="2.4"/>
<circle cx="502.34" cy="766.72" r="5.9" fill="#0433FF" stroke="#000" stroke-width="2.4"/>
<circle cx="588.05" cy="763.01" r="5.9" fill="#0433FF" stroke="#000" stroke-width="2.4"/>
<circle cx="673.76" cy="733.25" r="5.9" fill="#0433FF" stroke="#000" stroke-width="2.4"/>
<circle cx="759.47" cy="732.85" r="5.9" fill="#0433FF" stroke="#000" stroke-width="2.4"/>
<line x1="245.21" y1="800.68" x2="245.21" y2="812.71" stroke="#000" stroke-width="1.6" stroke-linecap="butt"/>
<line x1="238.41" y1="800.68" x2="252.01" y2="800.68" stroke="#000" stroke-width="1.6" stroke-linecap="butt"/>
<line x1="238.41" y1="812.71" x2="252.01" y2="812.71" stroke="#000" stroke-width="1.6" stroke-linecap="butt"/>
<line x1="330.92" y1="790.56" x2="330.92" y2="804.59" stroke="#000" stroke-width="1.6" stroke-linecap="butt"/>
<line x1="324.12" y1="790.56" x2="337.72" y2="790.56" stroke="#000" stroke-width="1.6" stroke-linecap="butt"/>
<line x1="324.12" y1="804.59" x2="337.72" y2="804.59" stroke="#000" stroke-width="1.6" stroke-linecap="butt"/>
<line x1="416.63" y1="809.9" x2="416.63" y2="836.96" stroke="#000" stroke-width="1.6" stroke-linecap="butt"/>
<line x1="409.83" y1="809.9" x2="423.43" y2="809.9" stroke="#000" stroke-width="1.6" stroke-linecap="butt"/>
<line x1="409.83" y1="836.96" x2="423.43" y2="836.96" stroke="#000" stroke-width="1.6" stroke-linecap="butt"/>
<line x1="502.34" y1="807.7" x2="502.34" y2="829.74" stroke="#000" stroke-width="1.6" stroke-linecap="butt"/>
<line x1="495.54" y1="807.7" x2="509.14" y2="807.7" stroke="#000" stroke-width="1.6" stroke-linecap="butt"/>
<line x1="495.54" y1="829.74" x2="509.14" y2="829.74" stroke="#000" stroke-width="1.6" stroke-linecap="butt"/>
<line x1="588.05" y1="825.83" x2="588.05" y2="852.89" stroke="#000" stroke-width="1.6" stroke-linecap="butt"/>
<line x1="581.25" y1="825.83" x2="594.85" y2="825.83" stroke="#000" stroke-width="1.6" stroke-linecap="butt"/>
<line x1="581.25" y1="852.89" x2="594.85" y2="852.89" stroke="#000" stroke-width="1.6" stroke-linecap="butt"/>
<line x1="673.76" y1="894.07" x2="673.76" y2="919.52" stroke="#000" stroke-width="1.6" stroke-linecap="butt"/>
<line x1="666.96" y1="894.07" x2="680.56" y2="894.07" stroke="#000" stroke-width="1.6" stroke-linecap="butt"/>
<line x1="666.96" y1="919.52" x2="680.56" y2="919.52" stroke="#000" stroke-width="1.6" stroke-linecap="butt"/>
<line x1="759.47" y1="948.48" x2="759.47" y2="976.34" stroke="#000" stroke-width="1.6" stroke-linecap="butt"/>
<line x1="752.67" y1="948.48" x2="766.27" y2="948.48" stroke="#000" stroke-width="1.6" stroke-linecap="butt"/>
<line x1="752.67" y1="976.34" x2="766.27" y2="976.34" stroke="#000" stroke-width="1.6" stroke-linecap="butt"/>
<circle cx="159.5" cy="808.3" r="5.9" fill="#000" stroke="#000" stroke-width="2.4"/>
<circle cx="245.21" cy="806.7" r="5.9" fill="#000" stroke="#000" stroke-width="2.4"/>
<circle cx="330.92" cy="797.58" r="5.9" fill="#000" stroke="#000" stroke-width="2.4"/>
<circle cx="416.63" cy="823.43" r="5.9" fill="#000" stroke="#000" stroke-width="2.4"/>
<circle cx="502.34" cy="818.72" r="5.9" fill="#000" stroke="#000" stroke-width="2.4"/>
<circle cx="588.05" cy="839.36" r="5.9" fill="#000" stroke="#000" stroke-width="2.4"/>
<circle cx="673.76" cy="906.8" r="5.9" fill="#000" stroke="#000" stroke-width="2.4"/>
<circle cx="759.47" cy="962.41" r="5.9" fill="#000" stroke="#000" stroke-width="2.4"/>
<line x1="875.2" y1="628.1" x2="907.3" y2="628.1" stroke="#000" stroke-width="1.6" stroke-linecap="butt"/>
<circle cx="890.9" cy="628.1" r="5.7" fill="#000" stroke="#000" stroke-width="2.4"/>
<text x="923.2" y="636.4" font-size="23.4">Pam<tspan font-size="17.5" dy="8">2</tspan><tspan dy="-8">Cys s.c</tspan></text>
<line x1="875.2" y1="666.6" x2="907.3" y2="666.6" stroke="#000" stroke-width="1.6" stroke-linecap="butt"/>
<circle cx="890.9" cy="666.6" r="5.7" fill="#0433FF" stroke="#000" stroke-width="2.4"/>
<text x="923.2" y="674.9" font-size="23.4">Pam<tspan font-size="17.5" dy="8">2</tspan><tspan dy="-8">Cys Spike s.c</tspan></text>
<line x1="875.2" y1="705.1" x2="907.3" y2="705.1" stroke="#000" stroke-width="1.6" stroke-linecap="butt"/>
<circle cx="890.9" cy="705.1" r="5.7" fill="#fff" stroke="#000" stroke-width="2.4"/>
<text x="923.2" y="713.4" font-size="23.4">Pam<tspan font-size="17.5" dy="8">2</tspan><tspan dy="-8">Cys i.n</tspan></text>
<line x1="875.2" y1="743.6" x2="907.3" y2="743.6" stroke="#000" stroke-width="1.6" stroke-linecap="butt"/>
<circle cx="890.9" cy="743.6" r="5.7" fill="#FF2600" stroke="#000" stroke-width="2.4"/>
<text x="923.2" y="751.9" font-size="23.4">Pam<tspan font-size="17.5" dy="8">2</tspan><tspan dy="-8">Cys Spike i.n</tspan></text>
<path d="M789.2,722.6 H806.7 V759.8 H789.2" stroke="#000" stroke-width="3.6" fill="none" stroke-linejoin="miter" stroke-linecap="butt"/>
<path d="M806.7,741.2 H825.3 V963.8 H805.6" stroke="#000" stroke-width="3.6" fill="none" stroke-linejoin="miter" stroke-linecap="butt"/>
<text transform="translate(839.5 855.8) scale(0.927 1.000)" font-size="25">p&lt;0.0056</text>
<text x="1140" y="553" font-size="56" font-weight="bold">d</text>
<line x1="1263.3" y1="636.5" x2="1263.3" y2="1002.8" stroke="#000" stroke-width="2.9" stroke-linecap="butt"/>
<line x1="1250.2" y1="1002.8" x2="1623.3" y2="1002.8" stroke="#000" stroke-width="2.9" stroke-linecap="butt"/>
<line x1="1250.2" y1="1002.8" x2="1263.3" y2="1002.8" stroke="#000" stroke-width="2.9" stroke-linecap="butt"/>
<text x="1244.5" y="1012" font-size="26.5" text-anchor="end">0</text>
<line x1="1250.2" y1="911.57" x2="1263.3" y2="911.57" stroke="#000" stroke-width="2.9" stroke-linecap="butt"/>
<text x="1244.5" y="920.77" font-size="26.5" text-anchor="end">25</text>
<line x1="1250.2" y1="820.35" x2="1263.3" y2="820.35" stroke="#000" stroke-width="2.9" stroke-linecap="butt"/>
<text x="1244.5" y="829.55" font-size="26.5" text-anchor="end">50</text>
<line x1="1250.2" y1="729.12" x2="1263.3" y2="729.12" stroke="#000" stroke-width="2.9" stroke-linecap="butt"/>
<text x="1244.5" y="738.33" font-size="26.5" text-anchor="end">75</text>
<line x1="1250.2" y1="637.9" x2="1263.3" y2="637.9" stroke="#000" stroke-width="2.9" stroke-linecap="butt"/>
<text x="1244.5" y="647.1" font-size="26.5" text-anchor="end">100</text>
<rect x="1293.15" y="783.86" width="50.5" height="218.94" fill="#FF9300"/>
<rect x="1293.15" y="637.9" width="50.5" height="148.96" fill="#FF2600"/>
<line x1="1293.15" y1="786.86" x2="1343.65" y2="786.86" stroke="#000" stroke-width="4.5" stroke-linecap="butt"/>
<path d="M1293.15,1002.8 V639.95 H1343.65 V1002.8" stroke="#000" stroke-width="4.5" fill="none" stroke-linejoin="miter" stroke-linecap="butt"/>
<rect x="1376.25" y="637.9" width="50.5" height="364.9" fill="#64B2FA"/>
<path d="M1376.25,1002.8 V639.95 H1426.75 V1002.8" stroke="#000" stroke-width="4.5" fill="none" stroke-linejoin="miter" stroke-linecap="butt"/>
<rect x="1459.05" y="856.84" width="50.5" height="145.96" fill="#64B2FA"/>
<rect x="1459.05" y="710.88" width="50.5" height="148.96" fill="#FF9300"/>
<rect x="1459.05" y="637.9" width="50.5" height="75.98" fill="#FF2600"/>
<line x1="1459.05" y1="859.84" x2="1509.55" y2="859.84" stroke="#000" stroke-width="4.5" stroke-linecap="butt"/>
<line x1="1459.05" y1="713.88" x2="1509.55" y2="713.88" stroke="#000" stroke-width="4.5" stroke-linecap="butt"/>
<path d="M1459.05,1002.8 V639.95 H1509.55 V1002.8" stroke="#000" stroke-width="4.5" fill="none" stroke-linejoin="miter" stroke-linecap="butt"/>
<rect x="1542.65" y="637.9" width="50.5" height="364.9" fill="#64B2FA"/>
<path d="M1542.65,1002.8 V639.95 H1593.15 V1002.8" stroke="#000" stroke-width="4.5" fill="none" stroke-linejoin="miter" stroke-linecap="butt"/>
<line x1="1318.4" y1="1002.8" x2="1318.4" y2="1016" stroke="#000" stroke-width="3.2" stroke-linecap="butt"/>
<line x1="1401.5" y1="1002.8" x2="1401.5" y2="1016" stroke="#000" stroke-width="3.2" stroke-linecap="butt"/>
<line x1="1484.3" y1="1002.8" x2="1484.3" y2="1016" stroke="#000" stroke-width="3.2" stroke-linecap="butt"/>
<line x1="1567.9" y1="1002.8" x2="1567.9" y2="1016" stroke="#000" stroke-width="3.2" stroke-linecap="butt"/>
<text x="1188" y="800.3" font-size="24.9" text-anchor="middle" transform="rotate(-90 1188 800.3)">Distribution of clinical score (%)</text>
<text transform="translate(1322.4 1037.4) rotate(-45) scale(0.930 1.000)" font-size="27.4" text-anchor="end">P<tspan font-size="21.6" dy="9.2" dx="1">2</tspan><tspan dy="-9.2">C s.c</tspan></text>
<text transform="translate(1405.5 1037.4) rotate(-45) scale(0.930 1.000)" font-size="27.4" text-anchor="end">P<tspan font-size="21.6" dy="9.2" dx="1">2</tspan><tspan dy="-9.2">C Spike s.c</tspan></text>
<text transform="translate(1488.3 1037.4) rotate(-45) scale(0.930 1.000)" font-size="27.4" text-anchor="end">P<tspan font-size="21.6" dy="9.2" dx="1">2</tspan><tspan dy="-9.2">C i.n</tspan></text>
<text transform="translate(1571.9 1037.4) rotate(-45) scale(0.930 1.000)" font-size="27.4" text-anchor="end">P<tspan font-size="21.6" dy="9.2" dx="1">2</tspan><tspan dy="-9.2">C Spike i.n</tspan></text>
<rect x="1693.95" y="650.95" width="33.3" height="17.4" fill="#64B2FA" stroke="#000" stroke-width="4.5"/>
<text x="1745.5" y="668.9" font-size="25.1">No clinical score</text>
<rect x="1693.95" y="694.45" width="33.3" height="17.4" fill="#FF9300" stroke="#000" stroke-width="4.5"/>
<text x="1745.5" y="712.4" font-size="25.1">Category 2</text>
<rect x="1693.95" y="737.95" width="33.3" height="17.4" fill="#FF2600" stroke="#000" stroke-width="4.5"/>
<text x="1745.5" y="755.9" font-size="25.1">Category 3</text>
<text x="22" y="1254" font-size="56" font-weight="bold">e</text>
<line x1="99.5" y1="1344.6" x2="99.5" y2="1710.6" stroke="#000" stroke-width="2.9" stroke-linecap="butt"/>
<line x1="87.3" y1="1709.2" x2="342" y2="1709.2" stroke="#000" stroke-width="2.9" stroke-linecap="butt"/>
<line x1="87.3" y1="1709.2" x2="99.5" y2="1709.2" stroke="#000" stroke-width="2.9" stroke-linecap="butt"/>
<text transform="translate(84.4 1717.2) scale(0.955 1.000)" font-size="23.5" text-anchor="end">0</text>
<line x1="87.3" y1="1648.67" x2="99.5" y2="1648.67" stroke="#000" stroke-width="2.9" stroke-linecap="butt"/>
<text transform="translate(84.4 1656.67) scale(0.955 1.000)" font-size="23.5" text-anchor="end">5</text>
<line x1="87.3" y1="1588.13" x2="99.5" y2="1588.13" stroke="#000" stroke-width="2.9" stroke-linecap="butt"/>
<text transform="translate(84.4 1596.13) scale(0.955 1.000)" font-size="23.5" text-anchor="end">10</text>
<line x1="87.3" y1="1527.6" x2="99.5" y2="1527.6" stroke="#000" stroke-width="2.9" stroke-linecap="butt"/>
<text transform="translate(84.4 1535.6) scale(0.955 1.000)" font-size="23.5" text-anchor="end">15</text>
<line x1="87.3" y1="1467.07" x2="99.5" y2="1467.07" stroke="#000" stroke-width="2.9" stroke-linecap="butt"/>
<text transform="translate(84.4 1475.07) scale(0.955 1.000)" font-size="23.5" text-anchor="end">20</text>
<line x1="87.3" y1="1406.53" x2="99.5" y2="1406.53" stroke="#000" stroke-width="2.9" stroke-linecap="butt"/>
<text transform="translate(84.4 1414.53) scale(0.955 1.000)" font-size="23.5" text-anchor="end">25</text>
<line x1="87.3" y1="1346" x2="99.5" y2="1346" stroke="#000" stroke-width="2.9" stroke-linecap="butt"/>
<text transform="translate(84.4 1354) scale(0.955 1.000)" font-size="23.5" text-anchor="end">30</text>
<line x1="136.7" y1="1709.2" x2="136.7" y2="1721.1" stroke="#000" stroke-width="3" stroke-linecap="butt"/>
<line x1="192.4" y1="1709.2" x2="192.4" y2="1721.1" stroke="#000" stroke-width="3" stroke-linecap="butt"/>
<line x1="248.1" y1="1709.2" x2="248.1" y2="1721.1" stroke="#000" stroke-width="3" stroke-linecap="butt"/>
<line x1="303.8" y1="1709.2" x2="303.8" y2="1721.1" stroke="#000" stroke-width="3" stroke-linecap="butt"/>
<text x="221" y="1281" font-size="25.7" text-anchor="middle">Total cells</text>
<text x="16.5" y="1525.4" font-size="21.6" text-anchor="middle" transform="rotate(-90 16.5 1525.4)">Total leukocytes/mL</text>
<text x="44.3" y="1524.4" font-size="22" text-anchor="middle" transform="rotate(-90 44.3 1524.4)">BALF (x10<tspan font-size="15.5" dy="-7.8">4</tspan><tspan dy="7.8">)</tspan></text>
<line x1="136.7" y1="1381.7" x2="193" y2="1381.7" stroke="#000" stroke-width="2.6" stroke-linecap="butt"/>
<text transform="translate(164.85 1367.3) scale(0.900 1.000)" font-size="24.5" text-anchor="middle">0.0019</text>
<line x1="136.7" y1="1470.7" x2="136.7" y2="1551.81" stroke="#000" stroke-width="2.6" stroke-linecap="butt"/>
<line x1="126.9" y1="1470.7" x2="146.5" y2="1470.7" stroke="#000" stroke-width="2.6" stroke-linecap="butt"/>
<line x1="126.9" y1="1551.81" x2="146.5" y2="1551.81" stroke="#000" stroke-width="2.6" stroke-linecap="butt"/>
<line x1="118.2" y1="1511.86" x2="155.2" y2="1511.86" stroke="#000" stroke-width="2.6" stroke-linecap="butt"/>
<circle cx="136.7" cy="1413.8" r="5.7" fill="#000" stroke="#000" stroke-width="2.4"/>
<circle cx="150.4" cy="1471.91" r="5.7" fill="#000" stroke="#000" stroke-width="2.4"/>
<circle cx="123.3" cy="1480.38" r="5.7" fill="#000" stroke="#000" stroke-width="2.4"/>
<circle cx="136.7" cy="1542.13" r="5.7" fill="#000" stroke="#000" stroke-width="2.4"/>
<circle cx="136.7" cy="1649.88" r="5.7" fill="#000" stroke="#000" stroke-width="2.4"/>
<line x1="192.4" y1="1657.14" x2="192.4" y2="1668.04" stroke="#000" stroke-width="2.6" stroke-linecap="butt"/>
<line x1="182.6" y1="1657.14" x2="202.2" y2="1657.14" stroke="#000" stroke-width="2.6" stroke-linecap="butt"/>
<line x1="182.6" y1="1668.04" x2="202.2" y2="1668.04" stroke="#000" stroke-width="2.6" stroke-linecap="butt"/>
<line x1="173.9" y1="1663.19" x2="210.9" y2="1663.19" stroke="#000" stroke-width="2.6" stroke-linecap="butt"/>
<circle cx="179.4" cy="1648.67" r="5.3" fill="#0433FF" stroke="#000" stroke-width="2.4"/>
<circle cx="192.9" cy="1653.51" r="5.3" fill="#0433FF" stroke="#000" stroke-width="2.4"/>
<circle cx="192.9" cy="1666.83" r="5.3" fill="#0433FF" stroke="#000" stroke-width="2.4"/>
<circle cx="179.4" cy="1674.09" r="5.3" fill="#0433FF" stroke="#000" stroke-width="2.4"/>
<circle cx="205.4" cy="1674.09" r="5.3" fill="#0433FF" stroke="#000" stroke-width="2.4"/>
<line x1="248.1" y1="1597.82" x2="248.1" y2="1634.14" stroke="#000" stroke-width="2.6" stroke-linecap="butt"/>
<line x1="238.3" y1="1597.82" x2="257.9" y2="1597.82" stroke="#000" stroke-width="2.6" stroke-linecap="butt"/>
<line x1="238.3" y1="1634.14" x2="257.9" y2="1634.14" stroke="#000" stroke-width="2.6" stroke-linecap="butt"/>
<line x1="229.6" y1="1615.98" x2="266.6" y2="1615.98" stroke="#000" stroke-width="2.6" stroke-linecap="butt"/>
<circle cx="248.1" cy="1563.92" r="5" fill="none" stroke="#000" stroke-width="3"/>
<circle cx="248.1" cy="1588.13" r="5" fill="none" stroke="#000" stroke-width="3"/>
<circle cx="248.1" cy="1620.82" r="5" fill="none" stroke="#000" stroke-width="3"/>
<circle cx="248.1" cy="1649.88" r="5" fill="none" stroke="#000" stroke-width="3"/>
<circle cx="248.1" cy="1661.98" r="5" fill="none" stroke="#000" stroke-width="3"/>
<line x1="303.8" y1="1607.5" x2="303.8" y2="1647.46" stroke="#000" stroke-width="2.6" stroke-linecap="butt"/>
<line x1="294" y1="1607.5" x2="313.6" y2="1607.5" stroke="#000" stroke-width="2.6" stroke-linecap="butt"/>
<line x1="294" y1="1647.46" x2="313.6" y2="1647.46" stroke="#000" stroke-width="2.6" stroke-linecap="butt"/>
<line x1="285.3" y1="1626.87" x2="322.3" y2="1626.87" stroke="#000" stroke-width="2.6" stroke-linecap="butt"/>
<circle cx="303.8" cy="1579.66" r="5.3" fill="#FF2600" stroke="#000" stroke-width="2.4"/>
<circle cx="303.8" cy="1596.61" r="5.3" fill="#FF2600" stroke="#000" stroke-width="2.4"/>
<circle cx="290.4" cy="1628.09" r="5.3" fill="#FF2600" stroke="#000" stroke-width="2.4"/>
<circle cx="316.8" cy="1635.35" r="5.3" fill="#FF2600" stroke="#000" stroke-width="2.4"/>
<circle cx="303.8" cy="1695.88" r="5.3" fill="#FF2600" stroke="#000" stroke-width="2.4"/>
<text transform="translate(140.2 1738.5) rotate(-45) scale(0.920 1.000)" font-size="24.8" text-anchor="end">P<tspan font-size="18.3" dy="7" dx="-0.4">2</tspan><tspan dy="-7">C s.c</tspan></text>
<text transform="translate(195.9 1738.5) rotate(-45) scale(0.920 1.000)" font-size="24.8" text-anchor="end">P<tspan font-size="18.3" dy="7" dx="-0.4">2</tspan><tspan dy="-7">C Spike s.c</tspan></text>
<text transform="translate(251.6 1738.5) rotate(-45) scale(0.920 1.000)" font-size="24.8" text-anchor="end">P<tspan font-size="18.3" dy="7" dx="-0.4">2</tspan><tspan dy="-7">C i.n</tspan></text>
<text transform="translate(307.3 1738.5) rotate(-45) scale(0.920 1.000)" font-size="24.8" text-anchor="end">P<tspan font-size="18.3" dy="7" dx="-0.4">2</tspan><tspan dy="-7">C Spike i.n</tspan></text>
<line x1="499.6" y1="1344.6" x2="499.6" y2="1710.6" stroke="#000" stroke-width="2.9" stroke-linecap="butt"/>
<line x1="487.4" y1="1709.2" x2="742.1" y2="1709.2" stroke="#000" stroke-width="2.9" stroke-linecap="butt"/>
<line x1="487.4" y1="1709.2" x2="499.6" y2="1709.2" stroke="#000" stroke-width="2.9" stroke-linecap="butt"/>
<text transform="translate(484.5 1717.2) scale(0.955 1.000)" font-size="23.5" text-anchor="end">0</text>
<line x1="487.4" y1="1618.4" x2="499.6" y2="1618.4" stroke="#000" stroke-width="2.9" stroke-linecap="butt"/>
<text transform="translate(484.5 1626.4) scale(0.955 1.000)" font-size="23.5" text-anchor="end">5</text>
<line x1="487.4" y1="1527.6" x2="499.6" y2="1527.6" stroke="#000" stroke-width="2.9" stroke-linecap="butt"/>
<text transform="translate(484.5 1535.6) scale(0.955 1.000)" font-size="23.5" text-anchor="end">10</text>
<line x1="487.4" y1="1436.8" x2="499.6" y2="1436.8" stroke="#000" stroke-width="2.9" stroke-linecap="butt"/>
<text transform="translate(484.5 1444.8) scale(0.955 1.000)" font-size="23.5" text-anchor="end">15</text>
<line x1="487.4" y1="1346" x2="499.6" y2="1346" stroke="#000" stroke-width="2.9" stroke-linecap="butt"/>
<text transform="translate(484.5 1354) scale(0.955 1.000)" font-size="23.5" text-anchor="end">20</text>
<line x1="536.7" y1="1709.2" x2="536.7" y2="1721.1" stroke="#000" stroke-width="3" stroke-linecap="butt"/>
<line x1="592.4" y1="1709.2" x2="592.4" y2="1721.1" stroke="#000" stroke-width="3" stroke-linecap="butt"/>
<line x1="648.1" y1="1709.2" x2="648.1" y2="1721.1" stroke="#000" stroke-width="3" stroke-linecap="butt"/>
<line x1="703.8" y1="1709.2" x2="703.8" y2="1721.1" stroke="#000" stroke-width="3" stroke-linecap="butt"/>
<text x="620.3" y="1281" font-size="25.7" text-anchor="middle">Macrophages</text>
<text x="415" y="1522.6" font-size="21.6" text-anchor="middle" transform="rotate(-90 415 1522.6)">Total macrophages/mL</text>
<text x="443.3" y="1521.6" font-size="22" text-anchor="middle" transform="rotate(-90 443.3 1521.6)">BALF (x10<tspan font-size="15.5" dy="-7.8">4</tspan><tspan dy="7.8">)</tspan></text>
<line x1="536" y1="1354.6" x2="593.5" y2="1354.6" stroke="#000" stroke-width="2.6" stroke-linecap="butt"/>
<text transform="translate(564.75 1341.3) scale(0.900 1.000)" font-size="24.5" text-anchor="middle">0.0033</text>
<line x1="536.7" y1="1434.98" x2="536.7" y2="1520.34" stroke="#000" stroke-width="2.6" stroke-linecap="butt"/>
<line x1="526.9" y1="1434.98" x2="546.5" y2="1434.98" stroke="#000" stroke-width="2.6" stroke-linecap="butt"/>
<line x1="526.9" y1="1520.34" x2="546.5" y2="1520.34" stroke="#000" stroke-width="2.6" stroke-linecap="butt"/>
<line x1="518.2" y1="1476.75" x2="555.2" y2="1476.75" stroke="#000" stroke-width="2.6" stroke-linecap="butt"/>
<circle cx="536.7" cy="1385.95" r="5.7" fill="#000" stroke="#000" stroke-width="2.4"/>
<circle cx="536.7" cy="1409.56" r="5.7" fill="#000" stroke="#000" stroke-width="2.4"/>
<circle cx="536.7" cy="1465.86" r="5.7" fill="#000" stroke="#000" stroke-width="2.4"/>
<circle cx="536.7" cy="1500.36" r="5.7" fill="#000" stroke="#000" stroke-width="2.4"/>
<circle cx="536.7" cy="1627.48" r="5.7" fill="#000" stroke="#000" stroke-width="2.4"/>
<line x1="592.4" y1="1632.02" x2="592.4" y2="1647.46" stroke="#000" stroke-width="2.6" stroke-linecap="butt"/>
<line x1="582.6" y1="1632.02" x2="602.2" y2="1632.02" stroke="#000" stroke-width="2.6" stroke-linecap="butt"/>
<line x1="582.6" y1="1647.46" x2="602.2" y2="1647.46" stroke="#000" stroke-width="2.6" stroke-linecap="butt"/>
<line x1="573.9" y1="1640.19" x2="610.9" y2="1640.19" stroke="#000" stroke-width="2.6" stroke-linecap="butt"/>
<circle cx="579.4" cy="1618.4" r="5.3" fill="#0433FF" stroke="#000" stroke-width="2.4"/>
<circle cx="592.4" cy="1622.94" r="5.3" fill="#0433FF" stroke="#000" stroke-width="2.4"/>
<circle cx="592.4" cy="1645.64" r="5.3" fill="#0433FF" stroke="#000" stroke-width="2.4"/>
<circle cx="579.4" cy="1654.72" r="5.3" fill="#0433FF" stroke="#000" stroke-width="2.4"/>
<circle cx="605.4" cy="1654.72" r="5.3" fill="#0433FF" stroke="#000" stroke-width="2.4"/>
<line x1="648.1" y1="1560.29" x2="648.1" y2="1605.69" stroke="#000" stroke-width="2.6" stroke-linecap="butt"/>
<line x1="638.3" y1="1560.29" x2="657.9" y2="1560.29" stroke="#000" stroke-width="2.6" stroke-linecap="butt"/>
<line x1="638.3" y1="1605.69" x2="657.9" y2="1605.69" stroke="#000" stroke-width="2.6" stroke-linecap="butt"/>
<line x1="629.6" y1="1582.08" x2="666.6" y2="1582.08" stroke="#000" stroke-width="2.6" stroke-linecap="butt"/>
<circle cx="648.1" cy="1511.26" r="5" fill="none" stroke="#000" stroke-width="3"/>
<circle cx="648.1" cy="1558.47" r="5" fill="none" stroke="#000" stroke-width="3"/>
<circle cx="648.1" cy="1582.08" r="5" fill="none" stroke="#000" stroke-width="3"/>
<circle cx="648.1" cy="1618.4" r="5" fill="none" stroke="#000" stroke-width="3"/>
<circle cx="648.1" cy="1640.19" r="5" fill="none" stroke="#000" stroke-width="3"/>
<line x1="703.8" y1="1556.66" x2="703.8" y2="1615.68" stroke="#000" stroke-width="2.6" stroke-linecap="butt"/>
<line x1="694" y1="1556.66" x2="713.6" y2="1556.66" stroke="#000" stroke-width="2.6" stroke-linecap="butt"/>
<line x1="694" y1="1615.68" x2="713.6" y2="1615.68" stroke="#000" stroke-width="2.6" stroke-linecap="butt"/>
<line x1="685.3" y1="1585.71" x2="722.3" y2="1585.71" stroke="#000" stroke-width="2.6" stroke-linecap="butt"/>
<circle cx="703.8" cy="1514.89" r="5.3" fill="#FF2600" stroke="#000" stroke-width="2.4"/>
<circle cx="703.8" cy="1540.31" r="5.3" fill="#FF2600" stroke="#000" stroke-width="2.4"/>
<circle cx="703.8" cy="1587.53" r="5.3" fill="#FF2600" stroke="#000" stroke-width="2.4"/>
<circle cx="703.8" cy="1598.42" r="5.3" fill="#FF2600" stroke="#000" stroke-width="2.4"/>
<circle cx="703.8" cy="1689.22" r="5.3" fill="#FF2600" stroke="#000" stroke-width="2.4"/>
<text transform="translate(540.2 1738.5) rotate(-45) scale(0.920 1.000)" font-size="24.8" text-anchor="end">P<tspan font-size="18.3" dy="7" dx="-0.4">2</tspan><tspan dy="-7">C s.c</tspan></text>
<text transform="translate(595.9 1738.5) rotate(-45) scale(0.920 1.000)" font-size="24.8" text-anchor="end">P<tspan font-size="18.3" dy="7" dx="-0.4">2</tspan><tspan dy="-7">C Spike s.c</tspan></text>
<text transform="translate(651.6 1738.5) rotate(-45) scale(0.920 1.000)" font-size="24.8" text-anchor="end">P<tspan font-size="18.3" dy="7" dx="-0.4">2</tspan><tspan dy="-7">C i.n</tspan></text>
<text transform="translate(707.3 1738.5) rotate(-45) scale(0.920 1.000)" font-size="24.8" text-anchor="end">P<tspan font-size="18.3" dy="7" dx="-0.4">2</tspan><tspan dy="-7">C Spike i.n</tspan></text>
<line x1="900.7" y1="1344.6" x2="900.7" y2="1710.6" stroke="#000" stroke-width="2.9" stroke-linecap="butt"/>
<line x1="888.5" y1="1709.2" x2="1143.2" y2="1709.2" stroke="#000" stroke-width="2.9" stroke-linecap="butt"/>
<line x1="888.5" y1="1709.2" x2="900.7" y2="1709.2" stroke="#000" stroke-width="2.9" stroke-linecap="butt"/>
<text transform="translate(885.6 1717.2) scale(0.955 1.000)" font-size="23.5" text-anchor="end">0</text>
<line x1="888.5" y1="1636.56" x2="900.7" y2="1636.56" stroke="#000" stroke-width="2.9" stroke-linecap="butt"/>
<text transform="translate(885.6 1644.56) scale(0.955 1.000)" font-size="23.5" text-anchor="end">2</text>
<line x1="888.5" y1="1563.92" x2="900.7" y2="1563.92" stroke="#000" stroke-width="2.9" stroke-linecap="butt"/>
<text transform="translate(885.6 1571.92) scale(0.955 1.000)" font-size="23.5" text-anchor="end">4</text>
<line x1="888.5" y1="1491.28" x2="900.7" y2="1491.28" stroke="#000" stroke-width="2.9" stroke-linecap="butt"/>
<text transform="translate(885.6 1499.28) scale(0.955 1.000)" font-size="23.5" text-anchor="end">6</text>
<line x1="888.5" y1="1418.64" x2="900.7" y2="1418.64" stroke="#000" stroke-width="2.9" stroke-linecap="butt"/>
<text transform="translate(885.6 1426.64) scale(0.955 1.000)" font-size="23.5" text-anchor="end">8</text>
<line x1="888.5" y1="1346" x2="900.7" y2="1346" stroke="#000" stroke-width="2.9" stroke-linecap="butt"/>
<text transform="translate(885.6 1354) scale(0.955 1.000)" font-size="23.5" text-anchor="end">10</text>
<line x1="937.8" y1="1709.2" x2="937.8" y2="1721.1" stroke="#000" stroke-width="3" stroke-linecap="butt"/>
<line x1="993.5" y1="1709.2" x2="993.5" y2="1721.1" stroke="#000" stroke-width="3" stroke-linecap="butt"/>
<line x1="1049.2" y1="1709.2" x2="1049.2" y2="1721.1" stroke="#000" stroke-width="3" stroke-linecap="butt"/>
<line x1="1105" y1="1709.2" x2="1105" y2="1721.1" stroke="#000" stroke-width="3" stroke-linecap="butt"/>
<text x="1022.1" y="1281" font-size="25.7" text-anchor="middle">Neutrophils</text>
<text x="814.5" y="1519" font-size="21.6" text-anchor="middle" transform="rotate(-90 814.5 1519)">Total neutrophils/mL</text>
<text x="842.8" y="1518" font-size="22" text-anchor="middle" transform="rotate(-90 842.8 1518)">BALF (x10<tspan font-size="15.5" dy="-7.8">4</tspan><tspan dy="7.8">)</tspan></text>
<line x1="937.8" y1="1326" x2="1106.4" y2="1326" stroke="#000" stroke-width="2.6" stroke-linecap="butt"/>
<text transform="translate(1022.1 1312.3) scale(0.900 1.000)" font-size="24.5" text-anchor="middle">0.0005</text>
<line x1="992.4" y1="1384.3" x2="1050.7" y2="1384.3" stroke="#000" stroke-width="2.6" stroke-linecap="butt"/>
<text transform="translate(1021.55 1371) scale(0.900 1.000)" font-size="24.5" text-anchor="middle">0.0241</text>
<line x1="937.8" y1="1443" x2="995" y2="1443" stroke="#000" stroke-width="2.6" stroke-linecap="butt"/>
<text transform="translate(966.4 1429.3) scale(0.900 1.000)" font-size="24.5" text-anchor="middle">0.0005</text>
<line x1="1048.9" y1="1443" x2="1106.4" y2="1443" stroke="#000" stroke-width="2.6" stroke-linecap="butt"/>
<text transform="translate(1077.65 1429.3) scale(0.900 1.000)" font-size="24.5" text-anchor="middle">0.0241</text>
<line x1="937.8" y1="1542.13" x2="937.8" y2="1631.11" stroke="#000" stroke-width="2.6" stroke-linecap="butt"/>
<line x1="928" y1="1542.13" x2="947.6" y2="1542.13" stroke="#000" stroke-width="2.6" stroke-linecap="butt"/>
<line x1="928" y1="1631.11" x2="947.6" y2="1631.11" stroke="#000" stroke-width="2.6" stroke-linecap="butt"/>
<line x1="919.3" y1="1585.71" x2="956.3" y2="1585.71" stroke="#000" stroke-width="2.6" stroke-linecap="butt"/>
<circle cx="937.8" cy="1474.94" r="5.7" fill="#000" stroke="#000" stroke-width="2.4"/>
<circle cx="937.8" cy="1491.28" r="5.7" fill="#000" stroke="#000" stroke-width="2.4"/>
<circle cx="924.4" cy="1631.11" r="5.7" fill="#000" stroke="#000" stroke-width="2.4"/>
<circle cx="950.8" cy="1639.1" r="5.7" fill="#000" stroke="#000" stroke-width="2.4"/>
<circle cx="937.8" cy="1696.49" r="5.7" fill="#000" stroke="#000" stroke-width="2.4"/>
<circle cx="980.5" cy="1709.2" r="5.3" fill="#0433FF" stroke="#000" stroke-width="2.4"/>
<circle cx="987" cy="1709.2" r="5.3" fill="#0433FF" stroke="#000" stroke-width="2.4"/>
<circle cx="993.5" cy="1709.2" r="5.3" fill="#0433FF" stroke="#000" stroke-width="2.4"/>
<circle cx="1000" cy="1709.2" r="5.3" fill="#0433FF" stroke="#000" stroke-width="2.4"/>
<circle cx="1006.5" cy="1709.2" r="5.3" fill="#0433FF" stroke="#000" stroke-width="2.4"/>
<line x1="1049.2" y1="1672.88" x2="1049.2" y2="1696.12" stroke="#000" stroke-width="2.6" stroke-linecap="butt"/>
<line x1="1039.4" y1="1672.88" x2="1059" y2="1672.88" stroke="#000" stroke-width="2.6" stroke-linecap="butt"/>
<line x1="1039.4" y1="1696.12" x2="1059" y2="1696.12" stroke="#000" stroke-width="2.6" stroke-linecap="butt"/>
<line x1="1030.7" y1="1684.5" x2="1067.7" y2="1684.5" stroke="#000" stroke-width="2.6" stroke-linecap="butt"/>
<circle cx="1049.2" cy="1646.37" r="5" fill="none" stroke="#000" stroke-width="3"/>
<circle cx="1049.2" cy="1665.62" r="5" fill="none" stroke="#000" stroke-width="3"/>
<circle cx="1049.2" cy="1701.94" r="5" fill="none" stroke="#000" stroke-width="3"/>
<circle cx="1036.2" cy="1704.84" r="5" fill="none" stroke="#000" stroke-width="3"/>
<circle cx="1062.2" cy="1704.84" r="5" fill="none" stroke="#000" stroke-width="3"/>
<circle cx="1092" cy="1709.2" r="5.3" fill="#FF2600" stroke="#000" stroke-width="2.4"/>
<circle cx="1098.5" cy="1709.2" r="5.3" fill="#FF2600" stroke="#000" stroke-width="2.4"/>
<circle cx="1105" cy="1709.2" r="5.3" fill="#FF2600" stroke="#000" stroke-width="2.4"/>
<circle cx="1111.5" cy="1709.2" r="5.3" fill="#FF2600" stroke="#000" stroke-width="2.4"/>
<circle cx="1118" cy="1709.2" r="5.3" fill="#FF2600" stroke="#000" stroke-width="2.4"/>
<text transform="translate(941.3 1738.5) rotate(-45) scale(0.920 1.000)" font-size="24.8" text-anchor="end">P<tspan font-size="18.3" dy="7" dx="-0.4">2</tspan><tspan dy="-7">C s.c</tspan></text>
<text transform="translate(997 1738.5) rotate(-45) scale(0.920 1.000)" font-size="24.8" text-anchor="end">P<tspan font-size="18.3" dy="7" dx="-0.4">2</tspan><tspan dy="-7">C Spike s.c</tspan></text>
<text transform="translate(1052.7 1738.5) rotate(-45) scale(0.920 1.000)" font-size="24.8" text-anchor="end">P<tspan font-size="18.3" dy="7" dx="-0.4">2</tspan><tspan dy="-7">C i.n</tspan></text>
<text transform="translate(1108.5 1738.5) rotate(-45) scale(0.920 1.000)" font-size="24.8" text-anchor="end">P<tspan font-size="18.3" dy="7" dx="-0.4">2</tspan><tspan dy="-7">C Spike i.n</tspan></text>
<line x1="1307" y1="1344.6" x2="1307" y2="1710.6" stroke="#000" stroke-width="2.9" stroke-linecap="butt"/>
<line x1="1294.8" y1="1709.2" x2="1549.5" y2="1709.2" stroke="#000" stroke-width="2.9" stroke-linecap="butt"/>
<line x1="1294.8" y1="1709.2" x2="1307" y2="1709.2" stroke="#000" stroke-width="2.9" stroke-linecap="butt"/>
<text transform="translate(1291.9 1717.2) scale(0.955 1.000)" font-size="23.5" text-anchor="end">0.0</text>
<line x1="1294.8" y1="1636.56" x2="1307" y2="1636.56" stroke="#000" stroke-width="2.9" stroke-linecap="butt"/>
<text transform="translate(1291.9 1644.56) scale(0.955 1.000)" font-size="23.5" text-anchor="end">0.1</text>
<line x1="1294.8" y1="1563.92" x2="1307" y2="1563.92" stroke="#000" stroke-width="2.9" stroke-linecap="butt"/>
<text transform="translate(1291.9 1571.92) scale(0.955 1.000)" font-size="23.5" text-anchor="end">0.2</text>
<line x1="1294.8" y1="1491.28" x2="1307" y2="1491.28" stroke="#000" stroke-width="2.9" stroke-linecap="butt"/>
<text transform="translate(1291.9 1499.28) scale(0.955 1.000)" font-size="23.5" text-anchor="end">0.3</text>
<line x1="1294.8" y1="1418.64" x2="1307" y2="1418.64" stroke="#000" stroke-width="2.9" stroke-linecap="butt"/>
<text transform="translate(1291.9 1426.64) scale(0.955 1.000)" font-size="23.5" text-anchor="end">0.4</text>
<line x1="1294.8" y1="1346" x2="1307" y2="1346" stroke="#000" stroke-width="2.9" stroke-linecap="butt"/>
<text transform="translate(1291.9 1354) scale(0.955 1.000)" font-size="23.5" text-anchor="end">0.5</text>
<line x1="1344.1" y1="1709.2" x2="1344.1" y2="1721.1" stroke="#000" stroke-width="3" stroke-linecap="butt"/>
<line x1="1399.8" y1="1709.2" x2="1399.8" y2="1721.1" stroke="#000" stroke-width="3" stroke-linecap="butt"/>
<line x1="1455.6" y1="1709.2" x2="1455.6" y2="1721.1" stroke="#000" stroke-width="3" stroke-linecap="butt"/>
<line x1="1511.3" y1="1709.2" x2="1511.3" y2="1721.1" stroke="#000" stroke-width="3" stroke-linecap="butt"/>
<text x="1427.7" y="1281" font-size="25.7" text-anchor="middle">Lymphocytes</text>
<text x="1215.5" y="1517.5" font-size="21.6" text-anchor="middle" transform="rotate(-90 1215.5 1517.5)">Total lymphocytes/mL</text>
<text x="1243.8" y="1516.5" font-size="22" text-anchor="middle" transform="rotate(-90 1243.8 1516.5)">BALF (x10<tspan font-size="15.5" dy="-7.8">4</tspan><tspan dy="7.8">)</tspan></text>
<line x1="1343.4" y1="1328.6" x2="1512.4" y2="1328.6" stroke="#000" stroke-width="2.6" stroke-linecap="butt"/>
<text transform="translate(1427.9 1314.9) scale(0.900 1.000)" font-size="24.5" text-anchor="middle">0.0058</text>
<line x1="1343.4" y1="1387.2" x2="1401" y2="1387.2" stroke="#000" stroke-width="2.6" stroke-linecap="butt"/>
<text transform="translate(1372.2 1373.6) scale(0.900 1.000)" font-size="24.5" text-anchor="middle">0.0058</text>
<line x1="1344.1" y1="1503.63" x2="1344.1" y2="1598.06" stroke="#000" stroke-width="2.6" stroke-linecap="butt"/>
<line x1="1334.3" y1="1503.63" x2="1353.9" y2="1503.63" stroke="#000" stroke-width="2.6" stroke-linecap="butt"/>
<line x1="1334.3" y1="1598.06" x2="1353.9" y2="1598.06" stroke="#000" stroke-width="2.6" stroke-linecap="butt"/>
<line x1="1325.6" y1="1550.84" x2="1362.6" y2="1550.84" stroke="#000" stroke-width="2.6" stroke-linecap="butt"/>
<circle cx="1344.1" cy="1418.64" r="5.7" fill="#000" stroke="#000" stroke-width="2.4"/>
<circle cx="1344.1" cy="1513.07" r="5.7" fill="#000" stroke="#000" stroke-width="2.4"/>
<circle cx="1344.1" cy="1542.13" r="5.7" fill="#000" stroke="#000" stroke-width="2.4"/>
<circle cx="1344.1" cy="1571.18" r="5.7" fill="#000" stroke="#000" stroke-width="2.4"/>
<circle cx="1344.1" cy="1709.2" r="5.7" fill="#000" stroke="#000" stroke-width="2.4"/>
<circle cx="1386.8" cy="1709.2" r="5.3" fill="#0433FF" stroke="#000" stroke-width="2.4"/>
<circle cx="1393.3" cy="1709.2" r="5.3" fill="#0433FF" stroke="#000" stroke-width="2.4"/>
<circle cx="1399.8" cy="1709.2" r="5.3" fill="#0433FF" stroke="#000" stroke-width="2.4"/>
<circle cx="1406.3" cy="1709.2" r="5.3" fill="#0433FF" stroke="#000" stroke-width="2.4"/>
<circle cx="1412.8" cy="1709.2" r="5.3" fill="#0433FF" stroke="#000" stroke-width="2.4"/>
<line x1="1455.6" y1="1617.67" x2="1455.6" y2="1687.41" stroke="#000" stroke-width="2.6" stroke-linecap="butt"/>
<line x1="1445.8" y1="1617.67" x2="1465.4" y2="1617.67" stroke="#000" stroke-width="2.6" stroke-linecap="butt"/>
<line x1="1445.8" y1="1687.41" x2="1465.4" y2="1687.41" stroke="#000" stroke-width="2.6" stroke-linecap="butt"/>
<line x1="1437.1" y1="1652.54" x2="1474.1" y2="1652.54" stroke="#000" stroke-width="2.6" stroke-linecap="butt"/>
<circle cx="1455.6" cy="1523.24" r="5" fill="none" stroke="#000" stroke-width="3"/>
<circle cx="1455.6" cy="1638.74" r="5" fill="none" stroke="#000" stroke-width="3"/>
<circle cx="1455.6" cy="1681.6" r="5" fill="none" stroke="#000" stroke-width="3"/>
<circle cx="1442.6" cy="1709.2" r="5" fill="none" stroke="#000" stroke-width="3"/>
<circle cx="1468.6" cy="1709.2" r="5" fill="none" stroke="#000" stroke-width="3"/>
<circle cx="1498.3" cy="1709.2" r="5.3" fill="#FF2600" stroke="#000" stroke-width="2.4"/>
<circle cx="1504.8" cy="1709.2" r="5.3" fill="#FF2600" stroke="#000" stroke-width="2.4"/>
<circle cx="1511.3" cy="1709.2" r="5.3" fill="#FF2600" stroke="#000" stroke-width="2.4"/>
<circle cx="1517.8" cy="1709.2" r="5.3" fill="#FF2600" stroke="#000" stroke-width="2.4"/>
<circle cx="1524.3" cy="1709.2" r="5.3" fill="#FF2600" stroke="#000" stroke-width="2.4"/>
<text transform="translate(1347.6 1738.5) rotate(-45) scale(0.920 1.000)" font-size="24.8" text-anchor="end">P<tspan font-size="18.3" dy="7" dx="-0.4">2</tspan><tspan dy="-7">C s.c</tspan></text>
<text transform="translate(1403.3 1738.5) rotate(-45) scale(0.920 1.000)" font-size="24.8" text-anchor="end">P<tspan font-size="18.3" dy="7" dx="-0.4">2</tspan><tspan dy="-7">C Spike s.c</tspan></text>
<text transform="translate(1459.1 1738.5) rotate(-45) scale(0.920 1.000)" font-size="24.8" text-anchor="end">P<tspan font-size="18.3" dy="7" dx="-0.4">2</tspan><tspan dy="-7">C i.n</tspan></text>
<text transform="translate(1514.8 1738.5) rotate(-45) scale(0.920 1.000)" font-size="24.8" text-anchor="end">P<tspan font-size="18.3" dy="7" dx="-0.4">2</tspan><tspan dy="-7">C Spike i.n</tspan></text>
<text x="1602" y="1254" font-size="58" font-weight="bold">f</text>
<line x1="1718.1" y1="1371.71" x2="1718.1" y2="1705.8" stroke="#000" stroke-width="2.9" stroke-linecap="butt"/>
<line x1="1705" y1="1704.4" x2="2047.5" y2="1704.4" stroke="#000" stroke-width="2.9" stroke-linecap="butt"/>
<line x1="1705" y1="1704.4" x2="1718.1" y2="1704.4" stroke="#000" stroke-width="2.9" stroke-linecap="butt"/>
<text transform="translate(1700.5 1715.4) scale(0.960 1.000)" font-size="29" text-anchor="end">10<tspan font-size="21" dy="-9.2">1</tspan></text>
<line x1="1705" y1="1593.97" x2="1718.1" y2="1593.97" stroke="#000" stroke-width="2.9" stroke-linecap="butt"/>
<text transform="translate(1700.5 1604.97) scale(0.960 1.000)" font-size="29" text-anchor="end">10<tspan font-size="21" dy="-9.2">2</tspan></text>
<line x1="1705" y1="1483.54" x2="1718.1" y2="1483.54" stroke="#000" stroke-width="2.9" stroke-linecap="butt"/>
<text transform="translate(1700.5 1494.54) scale(0.960 1.000)" font-size="29" text-anchor="end">10<tspan font-size="21" dy="-9.2">3</tspan></text>
<line x1="1705" y1="1373.11" x2="1718.1" y2="1373.11" stroke="#000" stroke-width="2.9" stroke-linecap="butt"/>
<text transform="translate(1700.5 1384.11) scale(0.960 1.000)" font-size="29" text-anchor="end">10<tspan font-size="21" dy="-9.2">4</tspan></text>
<text transform="translate(1700.3 1647.3) scale(0.980 1.000)" font-size="27.6" text-anchor="end">LOD</text>
<line x1="1769" y1="1704.4" x2="1769" y2="1717.7" stroke="#000" stroke-width="3.2" stroke-linecap="butt"/>
<line x1="1845.1" y1="1704.4" x2="1845.1" y2="1717.7" stroke="#000" stroke-width="3.2" stroke-linecap="butt"/>
<line x1="1921.3" y1="1704.4" x2="1921.3" y2="1717.7" stroke="#000" stroke-width="3.2" stroke-linecap="butt"/>
<line x1="1997.4" y1="1704.4" x2="1997.4" y2="1717.7" stroke="#000" stroke-width="3.2" stroke-linecap="butt"/>
<line x1="1724.5" y1="1638.2" x2="2047" y2="1638.2" stroke="#000" stroke-width="3" stroke-linecap="round" stroke-dasharray="0 6.64"/>
<text x="1630.5" y="1524.5" font-size="27.1" text-anchor="middle" transform="rotate(-90 1630.5 1524.5)">PFU/mL (Log<tspan font-size="19.5" dy="7.5">10</tspan><tspan dy="-7.5">)</tspan></text>
<line x1="1767.5" y1="1317.4" x2="1998.5" y2="1317.4" stroke="#000" stroke-width="2.9" stroke-linecap="butt"/>
<text transform="translate(1883 1300.9) scale(0.990 1.000)" font-size="26.5" text-anchor="middle">0.0023</text>
<line x1="1767.5" y1="1389.8" x2="1846.2" y2="1389.8" stroke="#000" stroke-width="2.9" stroke-linecap="butt"/>
<text transform="translate(1806.85 1372.6) scale(0.990 1.000)" font-size="26.5" text-anchor="middle">0.0023</text>
<line x1="1769" y1="1455.9" x2="1769" y2="1497.5" stroke="#000" stroke-width="2.2" stroke-linecap="butt"/>
<line x1="1756" y1="1455.9" x2="1782" y2="1455.9" stroke="#000" stroke-width="2.2" stroke-linecap="butt"/>
<line x1="1756" y1="1497.5" x2="1782" y2="1497.5" stroke="#000" stroke-width="2.2" stroke-linecap="butt"/>
<line x1="1744" y1="1472.6" x2="1794" y2="1472.6" stroke="#000" stroke-width="3" stroke-linecap="butt"/>
<circle cx="1769" cy="1428.8" r="6.2" fill="#000" stroke="#000" stroke-width="3"/>
<circle cx="1769" cy="1462.2" r="6.2" fill="#000" stroke="#000" stroke-width="3"/>
<circle cx="1750.4" cy="1495.7" r="6.2" fill="#000" stroke="#000" stroke-width="3"/>
<circle cx="1789.4" cy="1506.8" r="6.2" fill="#000" stroke="#000" stroke-width="3"/>
<circle cx="1769" cy="1561.4" r="6.2" fill="#000" stroke="#000" stroke-width="3"/>
<circle cx="1826.3" cy="1638.2" r="5.6" fill="#0433FF" stroke="#000" stroke-width="3"/>
<circle cx="1835.7" cy="1638.2" r="5.6" fill="#0433FF" stroke="#000" stroke-width="3"/>
<circle cx="1845.1" cy="1638.2" r="5.6" fill="#0433FF" stroke="#000" stroke-width="3"/>
<circle cx="1854.5" cy="1638.2" r="5.6" fill="#0433FF" stroke="#000" stroke-width="3"/>
<circle cx="1863.9" cy="1638.2" r="5.6" fill="#0433FF" stroke="#000" stroke-width="3"/>
<line x1="1845.1" y1="1634.2" x2="1845.1" y2="1642.2" stroke="#000" stroke-width="1.6" stroke-linecap="butt"/>
<line x1="1843.1" y1="1634.2" x2="1847.1" y2="1634.2" stroke="#000" stroke-width="1.4" stroke-linecap="butt"/>
<line x1="1843.1" y1="1642.2" x2="1847.1" y2="1642.2" stroke="#000" stroke-width="1.4" stroke-linecap="butt"/>
<circle cx="1978.7" cy="1638.2" r="5.6" fill="#FF2600" stroke="#000" stroke-width="3"/>
<circle cx="1988.1" cy="1638.2" r="5.6" fill="#FF2600" stroke="#000" stroke-width="3"/>
<circle cx="1997.5" cy="1638.2" r="5.6" fill="#FF2600" stroke="#000" stroke-width="3"/>
<circle cx="2006.9" cy="1638.2" r="5.6" fill="#FF2600" stroke="#000" stroke-width="3"/>
<circle cx="2016.3" cy="1638.2" r="5.6" fill="#FF2600" stroke="#000" stroke-width="3"/>
<line x1="1997.5" y1="1634.2" x2="1997.5" y2="1642.2" stroke="#000" stroke-width="1.6" stroke-linecap="butt"/>
<line x1="1995.5" y1="1634.2" x2="1999.5" y2="1634.2" stroke="#000" stroke-width="1.4" stroke-linecap="butt"/>
<line x1="1995.5" y1="1642.2" x2="1999.5" y2="1642.2" stroke="#000" stroke-width="1.4" stroke-linecap="butt"/>
<line x1="1921.3" y1="1479" x2="1921.3" y2="1559.9" stroke="#000" stroke-width="2.2" stroke-linecap="butt"/>
<line x1="1908.8" y1="1479" x2="1933.8" y2="1479" stroke="#000" stroke-width="2.2" stroke-linecap="butt"/>
<line x1="1908.8" y1="1559.9" x2="1933.8" y2="1559.9" stroke="#000" stroke-width="2.2" stroke-linecap="butt"/>
<line x1="1896.3" y1="1504.2" x2="1946.3" y2="1504.2" stroke="#000" stroke-width="3" stroke-linecap="butt"/>
<circle cx="1921.3" cy="1442.6" r="6.2" fill="none" stroke="#000" stroke-width="3"/>
<circle cx="1921.3" cy="1494.9" r="6.2" fill="none" stroke="#000" stroke-width="3"/>
<circle cx="1903" cy="1638.2" r="6.2" fill="none" stroke="#000" stroke-width="3"/>
<circle cx="1921.3" cy="1638.2" r="6.2" fill="none" stroke="#000" stroke-width="3"/>
<circle cx="1940.2" cy="1638.2" r="6.2" fill="none" stroke="#000" stroke-width="3"/>
<text transform="translate(1772.4 1740.5) rotate(-45) scale(0.905 1.000)" font-size="29.5" text-anchor="end">P<tspan font-size="22" dy="9.5" dx="0.5">2</tspan><tspan dy="-9.5">C s.c</tspan></text>
<text transform="translate(1848.5 1740.5) rotate(-45) scale(0.905 1.000)" font-size="29.5" text-anchor="end">P<tspan font-size="22" dy="9.5" dx="0.5">2</tspan><tspan dy="-9.5">C Spike s.c</tspan></text>
<text transform="translate(1924.7 1740.5) rotate(-45) scale(0.905 1.000)" font-size="29.5" text-anchor="end">P<tspan font-size="22" dy="9.5" dx="0.5">2</tspan><tspan dy="-9.5">C i.n</tspan></text>
<text transform="translate(2000.8 1740.5) rotate(-45) scale(0.905 1.000)" font-size="29.5" text-anchor="end">P<tspan font-size="22" dy="9.5" dx="0.5">2</tspan><tspan dy="-9.5">C Spike i.n</tspan></text>
</svg>
</body></html>
